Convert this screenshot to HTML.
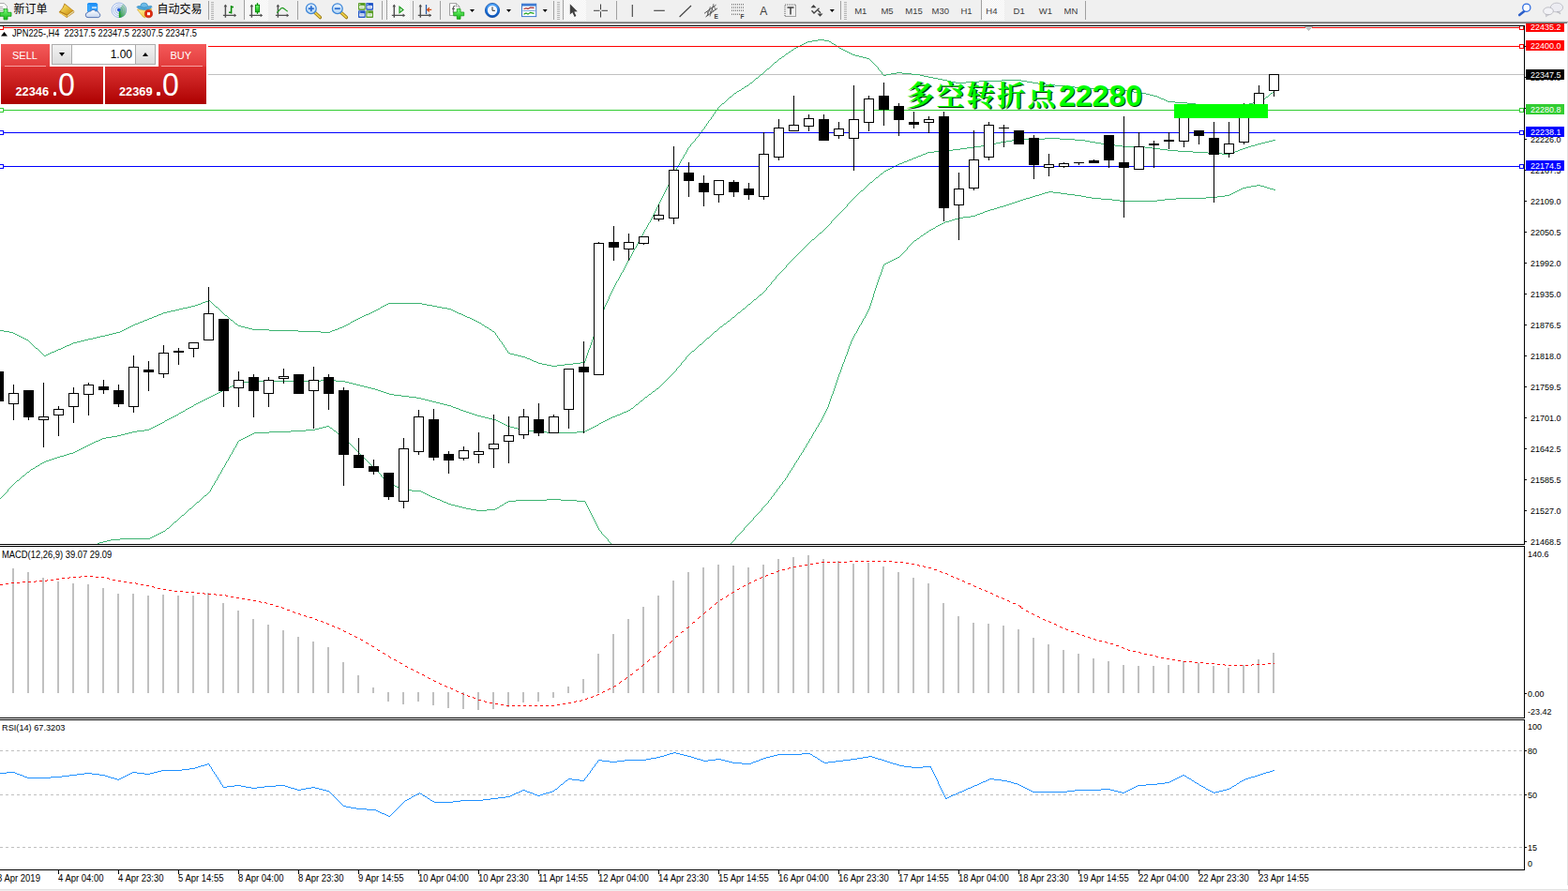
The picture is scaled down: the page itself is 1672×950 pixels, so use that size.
<!DOCTYPE html>
<html><head><meta charset="utf-8"><title>chart</title>
<style>
html,body{margin:0;padding:0;background:#fff;}
body{width:1672px;height:950px;position:relative;overflow:hidden;font-family:"Liberation Sans",sans-serif;}
.n{transform:scaleX(0.926);transform-origin:0 0;}
.t{position:absolute;white-space:nowrap;height:16px;line-height:16px;font-family:"Liberation Sans",sans-serif;}
#tb{position:absolute;left:0;top:0;width:1672px;height:23px;background:#f0f0f0;}
#tbl{position:absolute;left:0;top:22px;width:1672px;height:3px;background:linear-gradient(#e6e6e6 0,#e6e6e6 33.3%,#a6a6a6 33.3%,#a6a6a6 66.6%,#6a6a6a 66.6%);}
#bot{position:absolute;left:0;top:948px;width:1672px;height:2px;background:linear-gradient(#e3e3e3 50%,#f0f0f0 50%);}
#rt{position:absolute;left:1671px;top:24px;width:1px;height:920px;background:#e3e3e3;}
#chart{position:absolute;left:0;top:0;}
#tbsvg{position:absolute;left:0;top:0;}

#oct{position:absolute;left:0;top:0;}
.ocbg{position:absolute;left:0;top:44px;width:222px;height:68px;background:#fff;}
.sellt{position:absolute;left:1px;top:47px;width:52px;height:24px;background:linear-gradient(#f45a5a,#e23c3c);}
.sellb{position:absolute;left:1px;top:71px;width:109px;height:40px;background:linear-gradient(#dc3030,#c41a1a 50%,#ae0000);}
.buyt{position:absolute;left:169px;top:47px;width:51px;height:24px;background:linear-gradient(#f45a5a,#e23c3c);}
.buyb{position:absolute;left:112px;top:71px;width:108px;height:40px;background:linear-gradient(#dc3030,#c41a1a 50%,#ae0000);}
.vol{position:absolute;left:55px;top:47px;width:111px;height:22px;box-sizing:border-box;border:1px solid #adadad;background:#fff;}
.vb{position:absolute;top:0;width:20px;height:20px;background:linear-gradient(#f2f2f2,#dcdcdc);}
.vb.l{left:0;border-right:1px solid #adadad;}
.vb.r{right:0;border-left:1px solid #adadad;}
.vf{position:absolute;left:21px;right:21px;top:0;height:20px;line-height:20px;text-align:right;padding-right:3px;font-size:12px;color:#000;}
.ad{position:absolute;left:7px;top:8px;border:3px solid transparent;border-top:4px solid #000;border-bottom:0;width:0;height:0;}
.au{position:absolute;left:7px;top:8px;border:3px solid transparent;border-bottom:4px solid #000;border-top:0;width:0;height:0;}
.ul{position:absolute;top:70px;width:44px;height:1px;background:#f6a0a0;}
.t.big{top:66px;height:48px;line-height:48px;font-size:34.8px;color:#fff;transform:scaleX(0.92);transform-origin:0 0;}
.dot{position:absolute;top:98.2px;width:3.8px;height:3.8px;border-radius:1.2px;background:#fff;}

</style></head><body>
<div id="tb"></div><div id="tbl"></div><div id="bot"></div><div id="rt"></div>
<svg id="chart" width="1672" height="950" viewBox="0 0 1672 950">
<g shape-rendering="crispEdges">
<rect x="0" y="79" width="1625" height="1" fill="#c0c0c0"/>
</g>
<g fill="#3cb371" shape-rendering="crispEdges">
<path d="M872,42h7v1h-7zM866,43h6v1h-6zM879,43h5v1h-5zM861,44h5v1h-5zM884,44h2v1h-2zM859,45h2v1h-2zM886,45h1v1h-1zM857,46h2v1h-2zM887,46h2v1h-2zM855,47h2v1h-2zM889,47h2v1h-2zM853,48h2v1h-2zM891,48h1v1h-1zM851,49h2v1h-2zM892,49h2v1h-2zM849,50h2v1h-2zM894,50h1v1h-1zM847,51h2v1h-2zM895,51h2v1h-2zM846,52h1v1h-1zM897,52h2v1h-2zM844,53h2v1h-2zM899,53h2v1h-2zM843,54h1v1h-1zM901,54h2v1h-2zM841,55h2v1h-2zM903,55h2v1h-2zM840,56h1v1h-1zM905,56h2v1h-2zM838,57h2v1h-2zM907,57h2v1h-2zM837,58h1v1h-1zM909,58h3v1h-3zM836,59h1v1h-1zM912,59h4v1h-4zM834,60h2v1h-2zM916,60h4v1h-4zM833,61h1v1h-1zM920,61h4v1h-4zM831,62h2v1h-2zM924,62h3v1h-3zM830,63h1v1h-1zM927,63h1v1h-1zM829,64h1v1h-1zM928,64h1v1h-1zM828,65h1v1h-1zM929,65h1v1h-1zM826,66h2v1h-2zM930,66h1v1h-1zM825,67h1v1h-1zM931,67h1v1h-1zM824,68h1v1h-1zM932,68h1v1h-1zM823,69h1v1h-1zM933,69h1v1h-1zM822,70h1v1h-1zM934,70h1v1h-1zM821,71h1v1h-1zM935,71h1v1h-1zM820,72h1v1h-1zM936,72h1v1h-1zM818,73h2v1h-2zM936,73h1v1h-1zM817,74h1v1h-1zM937,74h1v1h-1zM816,75h1v1h-1zM938,75h1v1h-1zM815,76h1v1h-1zM939,76h1v1h-1zM814,77h1v1h-1zM940,77h1v1h-1zM956,77h6v1h-6zM813,78h1v1h-1zM940,78h1v1h-1zM950,78h6v1h-6zM962,78h10v1h-10zM811,79h2v1h-2zM941,79h1v1h-1zM945,79h5v1h-5zM972,79h9v1h-9zM810,80h1v1h-1zM942,80h3v1h-3zM981,80h4v1h-4zM809,81h1v1h-1zM985,81h5v1h-5zM808,82h1v1h-1zM990,82h5v1h-5zM806,83h2v1h-2zM995,83h5v1h-5zM805,84h1v1h-1zM1000,84h5v1h-5zM804,85h1v1h-1zM1005,85h5v1h-5zM1068,85h21v1h-21zM803,86h1v1h-1zM1010,86h4v1h-4zM1044,86h24v1h-24zM1089,86h6v1h-6zM802,87h1v1h-1zM1014,87h5v1h-5zM1030,87h14v1h-14zM1095,87h6v1h-6zM800,88h2v1h-2zM1019,88h11v1h-11zM1101,88h6v1h-6zM799,89h1v1h-1zM1107,89h8v1h-8zM798,90h1v1h-1zM1115,90h10v1h-10zM796,91h2v1h-2zM1125,91h11v1h-11zM794,92h2v1h-2zM1136,92h10v1h-10zM793,93h1v1h-1zM1146,93h13v1h-13zM791,94h2v1h-2zM1159,94h16v1h-16zM790,95h1v1h-1zM1175,95h16v1h-16zM788,96h2v1h-2zM1191,96h11v1h-11zM786,97h2v1h-2zM1202,97h7v1h-7zM1358,97h1v1h-1zM785,98h1v1h-1zM1209,98h8v1h-8zM1357,98h1v1h-1zM783,99h2v1h-2zM1217,99h5v1h-5zM1355,99h2v1h-2zM782,100h1v1h-1zM1222,100h4v1h-4zM1354,100h1v1h-1zM781,101h1v1h-1zM1226,101h4v1h-4zM1353,101h1v1h-1zM780,102h1v1h-1zM1230,102h4v1h-4zM1352,102h1v1h-1zM778,103h2v1h-2zM1234,103h2v1h-2zM1350,103h2v1h-2zM777,104h1v1h-1zM1236,104h2v1h-2zM1349,104h1v1h-1zM776,105h1v1h-1zM1238,105h3v1h-3zM1347,105h2v1h-2zM775,106h1v1h-1zM1241,106h2v1h-2zM1345,106h2v1h-2zM774,107h1v1h-1zM1243,107h2v1h-2zM1343,107h2v1h-2zM773,108h1v1h-1zM1245,108h8v1h-8zM1340,108h3v1h-3zM772,109h1v1h-1zM1253,109h13v1h-13zM1336,109h4v1h-4zM770,110h2v1h-2zM1266,110h9v1h-9zM1332,110h4v1h-4zM769,111h1v1h-1zM1275,111h8v1h-8zM1328,111h4v1h-4zM768,112h1v1h-1zM1283,112h8v1h-8zM1318,112h10v1h-10zM767,113h1v1h-1zM1291,113h27v1h-27zM766,114h1v1h-1zM765,115h1v1h-1zM765,116h1v1h-1zM764,117h1v1h-1zM763,118h1v1h-1zM762,119h1v1h-1zM762,120h1v1h-1zM761,121h1v1h-1zM760,122h1v1h-1zM760,123h1v1h-1zM759,124h1v1h-1zM758,125h1v1h-1zM758,126h1v1h-1zM757,127h1v1h-1zM756,128h1v1h-1zM755,129h1v1h-1zM755,130h1v1h-1zM754,131h1v1h-1zM753,132h1v1h-1zM753,133h1v1h-1zM752,134h1v1h-1zM751,135h1v1h-1zM751,136h1v1h-1zM750,137h1v1h-1zM749,138h1v1h-1zM748,139h1v1h-1zM748,140h1v1h-1zM747,141h1v1h-1zM746,142h1v1h-1zM745,143h1v1h-1zM745,144h1v1h-1zM744,145h1v1h-1zM743,146h1v1h-1zM742,147h1v1h-1zM741,148h1v1h-1zM741,149h1v1h-1zM740,150h1v1h-1zM739,151h1v1h-1zM738,152h1v1h-1zM737,153h1v1h-1zM736,154h1v1h-1zM736,155h1v1h-1zM735,156h1v1h-1zM734,157h1v1h-1zM733,158h1v1h-1zM733,159h1v1h-1zM732,160h1v1h-1zM732,161h1v1h-1zM731,162h1v1h-1zM731,163h1v1h-1zM730,164h1v1h-1zM729,165h1v1h-1zM729,166h1v1h-1zM728,167h1v1h-1zM728,168h1v1h-1zM727,169h1v1h-1zM726,170h1v1h-1zM726,171h1v1h-1zM725,172h1v1h-1zM725,173h1v1h-1zM724,174h1v1h-1zM724,175h1v1h-1zM723,176h1v1h-1zM722,177h1v1h-1zM722,178h1v1h-1zM721,179h1v1h-1zM721,180h1v1h-1zM720,181h1v1h-1zM720,182h1v1h-1zM719,183h1v1h-1zM719,184h1v1h-1zM718,185h1v1h-1zM718,186h1v1h-1zM717,187h1v1h-1zM717,188h1v1h-1zM716,189h1v1h-1zM716,190h1v1h-1zM715,191h1v1h-1zM715,192h1v1h-1zM714,193h1v1h-1zM714,194h1v1h-1zM713,195h1v1h-1zM713,196h1v1h-1zM712,197h1v1h-1zM712,198h1v1h-1zM711,199h1v1h-1zM711,200h1v1h-1zM710,201h1v1h-1zM710,202h1v1h-1zM709,203h1v1h-1zM709,204h1v1h-1zM708,205h1v1h-1zM708,206h1v1h-1zM707,207h1v1h-1zM707,208h1v1h-1zM706,209h1v1h-1zM706,210h1v1h-1zM705,211h1v1h-1zM705,212h1v1h-1zM704,213h1v1h-1zM704,214h1v1h-1zM703,215h1v1h-1zM703,216h1v1h-1zM702,217h1v1h-1zM702,218h1v1h-1zM701,219h1v1h-1zM701,220h1v1h-1zM700,221h1v1h-1zM700,222h1v1h-1zM699,223h1v1h-1zM699,224h1v1h-1zM698,225h1v1h-1zM698,226h1v1h-1zM697,227h1v1h-1zM697,228h1v1h-1zM696,229h1v1h-1zM696,230h1v1h-1zM695,231h1v1h-1zM695,232h1v1h-1zM694,233h1v1h-1zM694,234h1v1h-1zM693,235h1v1h-1zM693,236h1v1h-1zM692,237h1v1h-1zM691,238h1v1h-1zM691,239h1v1h-1zM690,240h1v1h-1zM690,241h1v1h-1zM689,242h1v1h-1zM689,243h1v1h-1zM688,244h1v1h-1zM687,245h1v1h-1zM687,246h1v1h-1zM686,247h1v1h-1zM686,248h1v1h-1zM685,249h1v1h-1zM685,250h1v1h-1zM684,251h1v1h-1zM683,252h1v1h-1zM683,253h1v1h-1zM682,254h1v1h-1zM682,255h1v1h-1zM681,256h1v1h-1zM681,257h1v1h-1zM680,258h1v1h-1zM680,259h1v1h-1zM679,260h1v1h-1zM679,261h1v1h-1zM678,262h1v1h-1zM678,263h1v1h-1zM677,264h1v1h-1zM676,265h1v1h-1zM676,266h1v1h-1zM675,267h1v1h-1zM675,268h1v1h-1zM674,269h1v1h-1zM674,270h1v1h-1zM673,271h1v1h-1zM673,272h1v1h-1zM672,273h1v1h-1zM672,274h1v1h-1zM671,275h1v1h-1zM671,276h1v1h-1zM670,277h1v1h-1zM669,278h1v1h-1zM669,279h1v1h-1zM668,280h1v1h-1zM668,281h1v1h-1zM667,282h1v1h-1zM667,283h1v1h-1zM666,284h1v1h-1zM666,285h1v1h-1zM665,286h1v1h-1zM665,287h1v1h-1zM664,288h1v1h-1zM664,289h1v1h-1zM663,290h1v1h-1zM662,291h1v1h-1zM662,292h1v1h-1zM661,293h1v1h-1zM661,294h1v1h-1zM660,295h1v1h-1zM660,296h1v1h-1zM659,297h1v1h-1zM659,298h1v1h-1zM658,299h1v1h-1zM657,300h1v1h-1zM657,301h1v1h-1zM656,302h1v1h-1zM656,303h1v1h-1zM655,304h1v1h-1zM655,305h1v1h-1zM654,306h1v1h-1zM654,307h1v1h-1zM653,308h1v1h-1zM653,309h1v1h-1zM652,310h1v1h-1zM652,311h1v1h-1zM651,312h1v1h-1zM651,313h1v1h-1zM650,314h1v1h-1zM650,315h1v1h-1zM649,316h1v1h-1zM649,317h1v1h-1zM649,318h1v1h-1zM648,319h1v1h-1zM222,320h2v1h-2zM648,320h1v1h-1zM219,321h3v1h-3zM224,321h1v1h-1zM647,321h1v1h-1zM216,322h3v1h-3zM225,322h1v1h-1zM647,322h1v1h-1zM214,323h2v1h-2zM226,323h1v1h-1zM414,323h36v1h-36zM646,323h1v1h-1zM211,324h3v1h-3zM227,324h1v1h-1zM412,324h2v1h-2zM450,324h5v1h-5zM646,324h1v1h-1zM208,325h3v1h-3zM228,325h1v1h-1zM410,325h2v1h-2zM455,325h6v1h-6zM645,325h1v1h-1zM204,326h4v1h-4zM229,326h1v1h-1zM408,326h2v1h-2zM461,326h5v1h-5zM645,326h1v1h-1zM200,327h4v1h-4zM230,327h2v1h-2zM406,327h2v1h-2zM466,327h5v1h-5zM644,327h1v1h-1zM195,328h5v1h-5zM232,328h1v1h-1zM405,328h1v1h-1zM471,328h6v1h-6zM644,328h1v1h-1zM191,329h4v1h-4zM233,329h1v1h-1zM403,329h2v1h-2zM477,329h4v1h-4zM644,329h1v1h-1zM187,330h4v1h-4zM234,330h1v1h-1zM401,330h2v1h-2zM481,330h2v1h-2zM643,330h1v1h-1zM182,331h5v1h-5zM235,331h1v1h-1zM399,331h2v1h-2zM483,331h2v1h-2zM643,331h1v1h-1zM178,332h4v1h-4zM236,332h1v1h-1zM397,332h2v1h-2zM485,332h2v1h-2zM642,332h1v1h-1zM174,333h4v1h-4zM237,333h1v1h-1zM395,333h2v1h-2zM487,333h2v1h-2zM642,333h1v1h-1zM172,334h2v1h-2zM238,334h1v1h-1zM393,334h2v1h-2zM489,334h3v1h-3zM642,334h1v1h-1zM169,335h3v1h-3zM239,335h1v1h-1zM390,335h3v1h-3zM492,335h2v1h-2zM641,335h1v1h-1zM167,336h2v1h-2zM240,336h2v1h-2zM388,336h2v1h-2zM494,336h2v1h-2zM641,336h1v1h-1zM164,337h3v1h-3zM242,337h1v1h-1zM386,337h2v1h-2zM496,337h2v1h-2zM641,337h1v1h-1zM162,338h2v1h-2zM243,338h1v1h-1zM384,338h2v1h-2zM498,338h3v1h-3zM640,338h1v1h-1zM159,339h3v1h-3zM244,339h1v1h-1zM382,339h2v1h-2zM501,339h2v1h-2zM640,339h1v1h-1zM157,340h2v1h-2zM245,340h1v1h-1zM380,340h2v1h-2zM503,340h2v1h-2zM639,340h1v1h-1zM154,341h3v1h-3zM246,341h2v1h-2zM378,341h2v1h-2zM505,341h2v1h-2zM639,341h1v1h-1zM152,342h2v1h-2zM248,342h1v1h-1zM376,342h2v1h-2zM507,342h2v1h-2zM639,342h1v1h-1zM149,343h3v1h-3zM249,343h1v1h-1zM374,343h2v1h-2zM509,343h2v1h-2zM638,343h1v1h-1zM147,344h2v1h-2zM250,344h1v1h-1zM373,344h1v1h-1zM511,344h2v1h-2zM638,344h1v1h-1zM144,345h3v1h-3zM251,345h2v1h-2zM371,345h2v1h-2zM513,345h1v1h-1zM637,345h1v1h-1zM142,346h2v1h-2zM253,346h1v1h-1zM369,346h2v1h-2zM514,346h2v1h-2zM637,346h1v1h-1zM140,347h2v1h-2zM254,347h3v1h-3zM367,347h2v1h-2zM516,347h1v1h-1zM637,347h1v1h-1zM138,348h2v1h-2zM257,348h4v1h-4zM365,348h2v1h-2zM517,348h2v1h-2zM636,348h1v1h-1zM136,349h2v1h-2zM261,349h4v1h-4zM362,349h3v1h-3zM519,349h2v1h-2zM636,349h1v1h-1zM134,350h2v1h-2zM265,350h4v1h-4zM360,350h2v1h-2zM521,350h1v1h-1zM636,350h1v1h-1zM132,351h2v1h-2zM269,351h18v1h-18zM357,351h3v1h-3zM522,351h2v1h-2zM635,351h1v1h-1zM0,352h4v1h-4zM130,352h2v1h-2zM287,352h31v1h-31zM354,352h3v1h-3zM524,352h1v1h-1zM635,352h1v1h-1zM4,353h6v1h-6zM128,353h2v1h-2zM318,353h24v1h-24zM352,353h2v1h-2zM525,353h2v1h-2zM634,353h1v1h-1zM10,354h4v1h-4zM124,354h4v1h-4zM342,354h10v1h-10zM527,354h1v1h-1zM634,354h1v1h-1zM14,355h2v1h-2zM120,355h4v1h-4zM528,355h1v1h-1zM634,355h1v1h-1zM16,356h2v1h-2zM116,356h4v1h-4zM528,356h1v1h-1zM633,356h1v1h-1zM18,357h2v1h-2zM112,357h4v1h-4zM529,357h1v1h-1zM633,357h1v1h-1zM20,358h2v1h-2zM107,358h5v1h-5zM530,358h1v1h-1zM633,358h1v1h-1zM22,359h2v1h-2zM103,359h4v1h-4zM530,359h1v1h-1zM632,359h1v1h-1zM24,360h2v1h-2zM99,360h4v1h-4zM531,360h1v1h-1zM632,360h1v1h-1zM26,361h2v1h-2zM94,361h5v1h-5zM532,361h1v1h-1zM632,361h1v1h-1zM28,362h2v1h-2zM90,362h4v1h-4zM532,362h1v1h-1zM631,362h1v1h-1zM30,363h1v1h-1zM86,363h4v1h-4zM533,363h1v1h-1zM631,363h1v1h-1zM31,364h1v1h-1zM82,364h4v1h-4zM534,364h1v1h-1zM631,364h1v1h-1zM32,365h1v1h-1zM78,365h4v1h-4zM535,365h1v1h-1zM630,365h1v1h-1zM33,366h1v1h-1zM76,366h2v1h-2zM535,366h1v1h-1zM630,366h1v1h-1zM34,367h1v1h-1zM74,367h2v1h-2zM536,367h1v1h-1zM630,367h1v1h-1zM35,368h1v1h-1zM71,368h3v1h-3zM537,368h1v1h-1zM629,368h1v1h-1zM36,369h1v1h-1zM69,369h2v1h-2zM537,369h1v1h-1zM629,369h1v1h-1zM37,370h1v1h-1zM67,370h2v1h-2zM538,370h1v1h-1zM629,370h1v1h-1zM38,371h2v1h-2zM65,371h2v1h-2zM539,371h1v1h-1zM628,371h1v1h-1zM40,372h1v1h-1zM62,372h3v1h-3zM539,372h1v1h-1zM628,372h1v1h-1zM41,373h1v1h-1zM60,373h2v1h-2zM540,373h1v1h-1zM627,373h1v1h-1zM42,374h1v1h-1zM58,374h2v1h-2zM541,374h1v1h-1zM627,374h1v1h-1zM43,375h1v1h-1zM55,375h3v1h-3zM541,375h1v1h-1zM627,375h1v1h-1zM44,376h1v1h-1zM53,376h2v1h-2zM542,376h2v1h-2zM626,376h1v1h-1zM45,377h1v1h-1zM51,377h2v1h-2zM544,377h4v1h-4zM626,377h1v1h-1zM46,378h1v1h-1zM49,378h2v1h-2zM548,378h4v1h-4zM626,378h1v1h-1zM47,379h2v1h-2zM552,379h4v1h-4zM625,379h1v1h-1zM556,380h4v1h-4zM625,380h1v1h-1zM560,381h2v1h-2zM625,381h1v1h-1zM562,382h3v1h-3zM624,382h1v1h-1zM565,383h2v1h-2zM624,383h1v1h-1zM567,384h2v1h-2zM624,384h1v1h-1zM569,385h3v1h-3zM623,385h1v1h-1zM572,386h2v1h-2zM619,386h5v1h-5zM574,387h4v1h-4zM611,387h8v1h-8zM578,388h5v1h-5zM602,388h9v1h-9zM583,389h5v1h-5zM594,389h8v1h-8zM588,390h6v1h-6z"/>
<path d="M1114,147h16v1h-16zM1087,148h27v1h-27zM1130,148h16v1h-16zM1079,149h8v1h-8zM1146,149h11v1h-11zM1357,149h3v1h-3zM1073,150h6v1h-6zM1157,150h5v1h-5zM1353,150h4v1h-4zM1067,151h6v1h-6zM1162,151h6v1h-6zM1349,151h4v1h-4zM1062,152h5v1h-5zM1168,152h6v1h-6zM1345,152h4v1h-4zM1057,153h5v1h-5zM1174,153h8v1h-8zM1341,153h4v1h-4zM1051,154h6v1h-6zM1182,154h7v1h-7zM1338,154h3v1h-3zM1046,155h5v1h-5zM1189,155h8v1h-8zM1334,155h4v1h-4zM1039,156h7v1h-7zM1197,156h24v1h-24zM1331,156h3v1h-3zM1031,157h8v1h-8zM1221,157h8v1h-8zM1328,157h3v1h-3zM1024,158h7v1h-7zM1229,158h8v1h-8zM1325,158h3v1h-3zM1016,159h8v1h-8zM1237,159h8v1h-8zM1322,159h3v1h-3zM1007,160h9v1h-9zM1245,160h11v1h-11zM1320,160h2v1h-2zM996,161h11v1h-11zM1256,161h16v1h-16zM1317,161h3v1h-3zM989,162h7v1h-7zM1272,162h16v1h-16zM1314,162h3v1h-3zM987,163h2v1h-2zM1288,163h15v1h-15zM1312,163h2v1h-2zM984,164h3v1h-3zM1303,164h9v1h-9zM982,165h2v1h-2zM979,166h3v1h-3zM977,167h2v1h-2zM974,168h3v1h-3zM972,169h2v1h-2zM969,170h3v1h-3zM967,171h2v1h-2zM964,172h3v1h-3zM962,173h2v1h-2zM959,174h3v1h-3zM957,175h2v1h-2zM955,176h2v1h-2zM953,177h2v1h-2zM951,178h2v1h-2zM949,179h2v1h-2zM947,180h2v1h-2zM945,181h2v1h-2zM943,182h2v1h-2zM942,183h1v1h-1zM941,184h1v1h-1zM939,185h2v1h-2zM938,186h1v1h-1zM937,187h1v1h-1zM936,188h1v1h-1zM934,189h2v1h-2zM933,190h1v1h-1zM932,191h1v1h-1zM931,192h1v1h-1zM930,193h1v1h-1zM928,194h2v1h-2zM927,195h1v1h-1zM926,196h1v1h-1zM925,197h1v1h-1zM924,198h1v1h-1zM923,199h1v1h-1zM922,200h1v1h-1zM921,201h1v1h-1zM920,202h1v1h-1zM918,203h2v1h-2zM917,204h1v1h-1zM916,205h1v1h-1zM915,206h1v1h-1zM914,207h1v1h-1zM913,208h1v1h-1zM912,209h1v1h-1zM911,210h1v1h-1zM910,211h1v1h-1zM909,212h1v1h-1zM908,213h1v1h-1zM907,214h1v1h-1zM906,215h1v1h-1zM905,216h1v1h-1zM904,217h1v1h-1zM903,218h1v1h-1zM903,219h1v1h-1zM902,220h1v1h-1zM901,221h1v1h-1zM900,222h1v1h-1zM899,223h1v1h-1zM898,224h1v1h-1zM897,225h1v1h-1zM896,226h1v1h-1zM895,227h1v1h-1zM894,228h1v1h-1zM893,229h1v1h-1zM892,230h1v1h-1zM891,231h1v1h-1zM890,232h1v1h-1zM889,233h1v1h-1zM888,234h1v1h-1zM887,235h1v1h-1zM886,236h1v1h-1zM886,237h1v1h-1zM885,238h1v1h-1zM884,239h1v1h-1zM883,240h1v1h-1zM882,241h1v1h-1zM881,242h1v1h-1zM880,243h1v1h-1zM879,244h1v1h-1zM878,245h1v1h-1zM877,246h1v1h-1zM876,247h1v1h-1zM874,248h2v1h-2zM873,249h1v1h-1zM872,250h1v1h-1zM871,251h1v1h-1zM870,252h1v1h-1zM869,253h1v1h-1zM868,254h1v1h-1zM866,255h2v1h-2zM865,256h1v1h-1zM864,257h1v1h-1zM863,258h1v1h-1zM862,259h1v1h-1zM861,260h1v1h-1zM860,261h1v1h-1zM859,262h1v1h-1zM858,263h1v1h-1zM857,264h1v1h-1zM856,265h1v1h-1zM855,266h1v1h-1zM854,267h1v1h-1zM853,268h1v1h-1zM852,269h1v1h-1zM851,270h1v1h-1zM850,271h1v1h-1zM849,272h1v1h-1zM848,273h1v1h-1zM847,274h1v1h-1zM846,275h1v1h-1zM845,276h1v1h-1zM844,277h1v1h-1zM843,278h1v1h-1zM842,279h1v1h-1zM841,280h1v1h-1zM840,281h1v1h-1zM839,282h1v1h-1zM838,283h1v1h-1zM838,284h1v1h-1zM837,285h1v1h-1zM836,286h1v1h-1zM835,287h1v1h-1zM834,288h1v1h-1zM833,289h1v1h-1zM832,290h1v1h-1zM831,291h1v1h-1zM830,292h1v1h-1zM829,293h1v1h-1zM828,294h1v1h-1zM827,295h1v1h-1zM827,296h1v1h-1zM826,297h1v1h-1zM825,298h1v1h-1zM824,299h1v1h-1zM823,300h1v1h-1zM822,301h1v1h-1zM822,302h1v1h-1zM821,303h1v1h-1zM820,304h1v1h-1zM819,305h1v1h-1zM818,306h1v1h-1zM817,307h1v1h-1zM817,308h1v1h-1zM816,309h1v1h-1zM815,310h1v1h-1zM814,311h1v1h-1zM813,312h1v1h-1zM812,313h1v1h-1zM810,314h2v1h-2zM809,315h1v1h-1zM808,316h1v1h-1zM807,317h1v1h-1zM806,318h1v1h-1zM804,319h2v1h-2zM803,320h1v1h-1zM802,321h1v1h-1zM801,322h1v1h-1zM800,323h1v1h-1zM798,324h2v1h-2zM797,325h1v1h-1zM796,326h1v1h-1zM795,327h1v1h-1zM794,328h1v1h-1zM792,329h2v1h-2zM791,330h1v1h-1zM790,331h1v1h-1zM789,332h1v1h-1zM787,333h2v1h-2zM786,334h1v1h-1zM785,335h1v1h-1zM784,336h1v1h-1zM783,337h1v1h-1zM781,338h2v1h-2zM780,339h1v1h-1zM779,340h1v1h-1zM778,341h1v1h-1zM776,342h2v1h-2zM775,343h1v1h-1zM774,344h1v1h-1zM772,345h2v1h-2zM771,346h1v1h-1zM770,347h1v1h-1zM768,348h2v1h-2zM767,349h1v1h-1zM766,350h1v1h-1zM765,351h1v1h-1zM764,352h1v1h-1zM762,353h2v1h-2zM761,354h1v1h-1zM760,355h1v1h-1zM759,356h1v1h-1zM758,357h1v1h-1zM757,358h1v1h-1zM756,359h1v1h-1zM754,360h2v1h-2zM753,361h1v1h-1zM752,362h1v1h-1zM751,363h1v1h-1zM750,364h1v1h-1zM749,365h1v1h-1zM748,366h1v1h-1zM746,367h2v1h-2zM745,368h1v1h-1zM744,369h1v1h-1zM743,370h1v1h-1zM742,371h1v1h-1zM741,372h1v1h-1zM740,373h1v1h-1zM738,374h2v1h-2zM737,375h1v1h-1zM736,376h1v1h-1zM735,377h1v1h-1zM734,378h1v1h-1zM733,379h1v1h-1zM732,380h1v1h-1zM731,381h1v1h-1zM731,382h1v1h-1zM730,383h1v1h-1zM729,384h1v1h-1zM728,385h1v1h-1zM727,386h1v1h-1zM726,387h1v1h-1zM726,388h1v1h-1zM725,389h1v1h-1zM724,390h1v1h-1zM723,391h1v1h-1zM722,392h1v1h-1zM721,393h1v1h-1zM721,394h1v1h-1zM720,395h1v1h-1zM719,396h1v1h-1zM718,397h1v1h-1zM717,398h1v1h-1zM716,399h1v1h-1zM715,400h1v1h-1zM714,401h1v1h-1zM713,402h1v1h-1zM712,403h1v1h-1zM711,404h1v1h-1zM342,405h16v1h-16zM710,405h1v1h-1zM267,406h75v1h-75zM358,406h10v1h-10zM709,406h1v1h-1zM259,407h8v1h-8zM368,407h4v1h-4zM708,407h1v1h-1zM253,408h6v1h-6zM372,408h4v1h-4zM707,408h1v1h-1zM251,409h2v1h-2zM376,409h4v1h-4zM706,409h1v1h-1zM249,410h2v1h-2zM380,410h4v1h-4zM705,410h1v1h-1zM247,411h2v1h-2zM384,411h4v1h-4zM704,411h1v1h-1zM245,412h2v1h-2zM388,412h4v1h-4zM703,412h1v1h-1zM243,413h2v1h-2zM392,413h4v1h-4zM702,413h1v1h-1zM241,414h2v1h-2zM396,414h4v1h-4zM700,414h2v1h-2zM239,415h2v1h-2zM400,415h3v1h-3zM699,415h1v1h-1zM237,416h2v1h-2zM403,416h3v1h-3zM698,416h1v1h-1zM235,417h2v1h-2zM406,417h3v1h-3zM696,417h2v1h-2zM233,418h2v1h-2zM409,418h3v1h-3zM695,418h1v1h-1zM231,419h2v1h-2zM412,419h3v1h-3zM694,419h1v1h-1zM229,420h2v1h-2zM415,420h5v1h-5zM692,420h2v1h-2zM227,421h2v1h-2zM420,421h8v1h-8zM691,421h1v1h-1zM225,422h2v1h-2zM428,422h8v1h-8zM690,422h1v1h-1zM223,423h2v1h-2zM436,423h8v1h-8zM688,423h2v1h-2zM221,424h2v1h-2zM444,424h5v1h-5zM687,424h1v1h-1zM219,425h2v1h-2zM449,425h4v1h-4zM686,425h1v1h-1zM217,426h2v1h-2zM453,426h4v1h-4zM685,426h1v1h-1zM215,427h2v1h-2zM457,427h4v1h-4zM683,427h2v1h-2zM213,428h2v1h-2zM461,428h4v1h-4zM682,428h1v1h-1zM211,429h2v1h-2zM465,429h4v1h-4zM681,429h1v1h-1zM209,430h2v1h-2zM469,430h4v1h-4zM680,430h1v1h-1zM207,431h2v1h-2zM473,431h4v1h-4zM678,431h2v1h-2zM206,432h1v1h-1zM477,432h4v1h-4zM677,432h1v1h-1zM204,433h2v1h-2zM481,433h2v1h-2zM676,433h1v1h-1zM202,434h2v1h-2zM483,434h3v1h-3zM675,434h1v1h-1zM200,435h2v1h-2zM486,435h3v1h-3zM673,435h2v1h-2zM198,436h2v1h-2zM489,436h2v1h-2zM672,436h1v1h-1zM197,437h1v1h-1zM491,437h3v1h-3zM670,437h2v1h-2zM195,438h2v1h-2zM494,438h3v1h-3zM668,438h2v1h-2zM193,439h2v1h-2zM497,439h3v1h-3zM665,439h3v1h-3zM191,440h2v1h-2zM500,440h3v1h-3zM663,440h2v1h-2zM190,441h1v1h-1zM503,441h3v1h-3zM661,441h2v1h-2zM188,442h2v1h-2zM506,442h3v1h-3zM658,442h3v1h-3zM186,443h2v1h-2zM509,443h4v1h-4zM656,443h2v1h-2zM184,444h2v1h-2zM513,444h4v1h-4zM653,444h3v1h-3zM182,445h2v1h-2zM517,445h4v1h-4zM651,445h2v1h-2zM180,446h2v1h-2zM521,446h4v1h-4zM649,446h2v1h-2zM178,447h2v1h-2zM525,447h4v1h-4zM647,447h2v1h-2zM176,448h2v1h-2zM529,448h2v1h-2zM645,448h2v1h-2zM175,449h1v1h-1zM531,449h2v1h-2zM643,449h2v1h-2zM173,450h2v1h-2zM533,450h2v1h-2zM641,450h2v1h-2zM171,451h2v1h-2zM535,451h2v1h-2zM639,451h2v1h-2zM169,452h2v1h-2zM537,452h2v1h-2zM638,452h1v1h-1zM167,453h2v1h-2zM539,453h2v1h-2zM636,453h2v1h-2zM165,454h2v1h-2zM541,454h3v1h-3zM634,454h2v1h-2zM163,455h2v1h-2zM544,455h4v1h-4zM632,455h2v1h-2zM161,456h2v1h-2zM548,456h4v1h-4zM630,456h2v1h-2zM159,457h2v1h-2zM552,457h4v1h-4zM628,457h2v1h-2zM154,458h5v1h-5zM556,458h7v1h-7zM626,458h2v1h-2zM146,459h8v1h-8zM563,459h8v1h-8zM624,459h2v1h-2zM141,460h5v1h-5zM571,460h12v1h-12zM615,460h9v1h-9zM137,461h4v1h-4zM583,461h32v1h-32zM133,462h4v1h-4zM129,463h4v1h-4zM125,464h4v1h-4zM119,465h6v1h-6zM113,466h6v1h-6zM109,467h4v1h-4zM107,468h2v1h-2zM105,469h2v1h-2zM102,470h3v1h-3zM100,471h2v1h-2zM98,472h2v1h-2zM96,473h2v1h-2zM94,474h2v1h-2zM92,475h2v1h-2zM90,476h2v1h-2zM88,477h2v1h-2zM86,478h2v1h-2zM84,479h2v1h-2zM82,480h2v1h-2zM80,481h2v1h-2zM78,482h2v1h-2zM74,483h4v1h-4zM71,484h3v1h-3zM68,485h3v1h-3zM64,486h4v1h-4zM61,487h3v1h-3zM58,488h3v1h-3zM55,489h3v1h-3zM52,490h3v1h-3zM49,491h3v1h-3zM47,492h2v1h-2zM45,493h2v1h-2zM43,494h2v1h-2zM42,495h1v1h-1zM40,496h2v1h-2zM38,497h2v1h-2zM37,498h1v1h-1zM35,499h2v1h-2zM33,500h2v1h-2zM32,501h1v1h-1zM31,502h1v1h-1zM29,503h2v1h-2zM28,504h1v1h-1zM27,505h1v1h-1zM26,506h1v1h-1zM24,507h2v1h-2zM23,508h1v1h-1zM22,509h1v1h-1zM21,510h1v1h-1zM20,511h1v1h-1zM18,512h2v1h-2zM17,513h1v1h-1zM16,514h1v1h-1zM15,515h1v1h-1zM14,516h1v1h-1zM13,517h1v1h-1zM12,518h1v1h-1zM11,519h1v1h-1zM10,520h1v1h-1zM9,521h1v1h-1zM8,522h1v1h-1zM8,523h1v1h-1zM7,524h1v1h-1zM6,525h1v1h-1zM5,526h1v1h-1zM4,527h1v1h-1zM3,528h1v1h-1zM2,529h1v1h-1zM1,530h1v1h-1zM0,531h1v1h-1z"/>
<path d="M348,454h3v1h-3zM344,455h4v1h-4zM351,455h1v1h-1zM340,456h4v1h-4zM352,456h2v1h-2zM336,457h4v1h-4zM354,457h1v1h-1zM326,458h10v1h-10zM355,458h1v1h-1zM310,459h16v1h-16zM356,459h2v1h-2zM287,460h23v1h-23zM358,460h1v1h-1zM271,461h16v1h-16zM359,461h1v1h-1zM269,462h2v1h-2zM360,462h2v1h-2zM267,463h2v1h-2zM362,463h1v1h-1zM265,464h2v1h-2zM363,464h1v1h-1zM263,465h2v1h-2zM364,465h2v1h-2zM261,466h2v1h-2zM366,466h1v1h-1zM259,467h2v1h-2zM367,467h1v1h-1zM257,468h2v1h-2zM368,468h1v1h-1zM255,469h2v1h-2zM369,469h1v1h-1zM254,470h1v1h-1zM370,470h1v1h-1zM253,471h1v1h-1zM371,471h1v1h-1zM253,472h1v1h-1zM372,472h1v1h-1zM252,473h1v1h-1zM373,473h1v1h-1zM252,474h1v1h-1zM374,474h1v1h-1zM251,475h1v1h-1zM375,475h1v1h-1zM251,476h1v1h-1zM376,476h1v1h-1zM250,477h1v1h-1zM377,477h1v1h-1zM249,478h1v1h-1zM378,478h1v1h-1zM249,479h1v1h-1zM379,479h1v1h-1zM248,480h1v1h-1zM380,480h1v1h-1zM248,481h1v1h-1zM381,481h1v1h-1zM247,482h1v1h-1zM382,482h1v1h-1zM247,483h1v1h-1zM383,483h1v1h-1zM246,484h1v1h-1zM384,484h1v1h-1zM245,485h1v1h-1zM385,485h1v1h-1zM245,486h1v1h-1zM386,486h1v1h-1zM244,487h1v1h-1zM387,487h1v1h-1zM244,488h1v1h-1zM388,488h1v1h-1zM243,489h1v1h-1zM389,489h1v1h-1zM243,490h1v1h-1zM390,490h1v1h-1zM242,491h1v1h-1zM391,491h1v1h-1zM241,492h1v1h-1zM392,492h1v1h-1zM241,493h1v1h-1zM393,493h1v1h-1zM240,494h1v1h-1zM394,494h1v1h-1zM240,495h1v1h-1zM395,495h1v1h-1zM239,496h1v1h-1zM396,496h1v1h-1zM239,497h1v1h-1zM397,497h1v1h-1zM238,498h1v1h-1zM398,498h1v1h-1zM237,499h1v1h-1zM399,499h1v1h-1zM237,500h1v1h-1zM400,500h1v1h-1zM236,501h1v1h-1zM401,501h1v1h-1zM236,502h1v1h-1zM402,502h1v1h-1zM235,503h1v1h-1zM403,503h1v1h-1zM235,504h1v1h-1zM404,504h1v1h-1zM234,505h1v1h-1zM405,505h1v1h-1zM233,506h1v1h-1zM406,506h1v1h-1zM233,507h1v1h-1zM406,507h1v1h-1zM232,508h1v1h-1zM407,508h1v1h-1zM232,509h1v1h-1zM408,509h1v1h-1zM231,510h1v1h-1zM409,510h1v1h-1zM231,511h1v1h-1zM410,511h1v1h-1zM230,512h1v1h-1zM411,512h1v1h-1zM229,513h1v1h-1zM412,513h1v1h-1zM229,514h1v1h-1zM413,514h1v1h-1zM228,515h1v1h-1zM414,515h2v1h-2zM228,516h1v1h-1zM416,516h2v1h-2zM227,517h1v1h-1zM418,517h3v1h-3zM226,518h1v1h-1zM421,518h2v1h-2zM226,519h1v1h-1zM423,519h2v1h-2zM225,520h1v1h-1zM425,520h3v1h-3zM225,521h1v1h-1zM428,521h2v1h-2zM224,522h1v1h-1zM430,522h9v1h-9zM224,523h1v1h-1zM439,523h10v1h-10zM223,524h1v1h-1zM449,524h2v1h-2zM222,525h1v1h-1zM451,525h2v1h-2zM221,526h1v1h-1zM453,526h2v1h-2zM220,527h1v1h-1zM455,527h2v1h-2zM218,528h2v1h-2zM457,528h2v1h-2zM217,529h1v1h-1zM459,529h2v1h-2zM216,530h1v1h-1zM461,530h3v1h-3zM215,531h1v1h-1zM464,531h2v1h-2zM214,532h1v1h-1zM466,532h3v1h-3zM583,532h15v1h-15zM213,533h1v1h-1zM469,533h2v1h-2zM550,533h33v1h-33zM598,533h17v1h-17zM212,534h1v1h-1zM471,534h2v1h-2zM542,534h8v1h-8zM615,534h9v1h-9zM210,535h2v1h-2zM473,535h3v1h-3zM540,535h2v1h-2zM624,535h1v1h-1zM209,536h1v1h-1zM476,536h2v1h-2zM538,536h2v1h-2zM624,536h1v1h-1zM208,537h1v1h-1zM478,537h3v1h-3zM537,537h1v1h-1zM625,537h1v1h-1zM207,538h1v1h-1zM481,538h4v1h-4zM535,538h2v1h-2zM625,538h1v1h-1zM206,539h1v1h-1zM485,539h4v1h-4zM533,539h2v1h-2zM626,539h1v1h-1zM205,540h1v1h-1zM489,540h4v1h-4zM532,540h1v1h-1zM626,540h1v1h-1zM204,541h1v1h-1zM493,541h4v1h-4zM530,541h2v1h-2zM627,541h1v1h-1zM202,542h2v1h-2zM497,542h5v1h-5zM528,542h2v1h-2zM627,542h1v1h-1zM201,543h1v1h-1zM502,543h6v1h-6zM519,543h9v1h-9zM628,543h1v1h-1zM200,544h1v1h-1zM508,544h11v1h-11zM628,544h1v1h-1zM199,545h1v1h-1zM629,545h1v1h-1zM198,546h1v1h-1zM629,546h1v1h-1zM197,547h1v1h-1zM630,547h1v1h-1zM196,548h1v1h-1zM630,548h1v1h-1zM194,549h2v1h-2zM631,549h1v1h-1zM193,550h1v1h-1zM631,550h1v1h-1zM192,551h1v1h-1zM632,551h1v1h-1zM191,552h1v1h-1zM632,552h1v1h-1zM190,553h1v1h-1zM633,553h1v1h-1zM189,554h1v1h-1zM633,554h1v1h-1zM188,555h1v1h-1zM634,555h1v1h-1zM186,556h2v1h-2zM634,556h1v1h-1zM185,557h1v1h-1zM635,557h1v1h-1zM184,558h1v1h-1zM635,558h1v1h-1zM183,559h1v1h-1zM636,559h1v1h-1zM182,560h1v1h-1zM636,560h1v1h-1zM181,561h1v1h-1zM637,561h1v1h-1zM180,562h1v1h-1zM637,562h1v1h-1zM178,563h2v1h-2zM638,563h1v1h-1zM177,564h1v1h-1zM638,564h1v1h-1zM176,565h1v1h-1zM639,565h1v1h-1zM174,566h2v1h-2zM640,566h1v1h-1zM172,567h2v1h-2zM641,567h1v1h-1zM170,568h2v1h-2zM641,568h1v1h-1zM168,569h2v1h-2zM642,569h1v1h-1zM166,570h2v1h-2zM643,570h1v1h-1zM164,571h2v1h-2zM644,571h1v1h-1zM162,572h2v1h-2zM645,572h1v1h-1zM160,573h2v1h-2zM646,573h1v1h-1zM128,574h32v1h-32zM647,574h1v1h-1zM118,575h10v1h-10zM648,575h1v1h-1zM114,576h4v1h-4zM648,576h1v1h-1zM110,577h4v1h-4zM649,577h1v1h-1zM106,578h4v1h-4zM650,578h1v1h-1zM104,579h2v1h-2zM651,579h1v1h-1z"/>
<path d="M1340,197h4v1h-4zM1334,198h6v1h-6zM1344,198h4v1h-4zM1329,199h5v1h-5zM1348,199h3v1h-3zM1325,200h4v1h-4zM1351,200h3v1h-3zM1323,201h2v1h-2zM1354,201h4v1h-4zM1321,202h2v1h-2zM1358,202h2v1h-2zM1319,203h2v1h-2zM1118,204h5v1h-5zM1317,204h2v1h-2zM1114,205h4v1h-4zM1123,205h8v1h-8zM1315,205h2v1h-2zM1111,206h3v1h-3zM1131,206h7v1h-7zM1313,206h2v1h-2zM1108,207h3v1h-3zM1138,207h8v1h-8zM1311,207h2v1h-2zM1104,208h4v1h-4zM1146,208h7v1h-7zM1306,208h5v1h-5zM1101,209h3v1h-3zM1153,209h5v1h-5zM1298,209h8v1h-8zM1098,210h3v1h-3zM1158,210h6v1h-6zM1286,210h12v1h-12zM1094,211h4v1h-4zM1164,211h10v1h-10zM1254,211h32v1h-32zM1091,212h3v1h-3zM1174,212h12v1h-12zM1242,212h12v1h-12zM1088,213h3v1h-3zM1186,213h8v1h-8zM1234,213h8v1h-8zM1085,214h3v1h-3zM1194,214h40v1h-40zM1082,215h3v1h-3zM1079,216h3v1h-3zM1076,217h3v1h-3zM1073,218h3v1h-3zM1070,219h3v1h-3zM1066,220h4v1h-4zM1063,221h3v1h-3zM1060,222h3v1h-3zM1056,223h4v1h-4zM1053,224h3v1h-3zM1050,225h3v1h-3zM1048,226h2v1h-2zM1045,227h3v1h-3zM1042,228h3v1h-3zM1040,229h2v1h-2zM1035,230h5v1h-5zM1027,231h8v1h-8zM1022,232h5v1h-5zM1018,233h4v1h-4zM1015,234h3v1h-3zM1012,235h3v1h-3zM1008,236h4v1h-4zM1006,237h2v1h-2zM1004,238h2v1h-2zM1002,239h2v1h-2zM1000,240h2v1h-2zM998,241h2v1h-2zM997,242h1v1h-1zM995,243h2v1h-2zM993,244h2v1h-2zM991,245h2v1h-2zM990,246h1v1h-1zM988,247h2v1h-2zM987,248h1v1h-1zM985,249h2v1h-2zM984,250h1v1h-1zM982,251h2v1h-2zM981,252h1v1h-1zM980,253h1v1h-1zM978,254h2v1h-2zM977,255h1v1h-1zM975,256h2v1h-2zM974,257h1v1h-1zM973,258h1v1h-1zM972,259h1v1h-1zM971,260h1v1h-1zM970,261h1v1h-1zM969,262h1v1h-1zM968,263h1v1h-1zM967,264h1v1h-1zM967,265h1v1h-1zM966,266h1v1h-1zM965,267h1v1h-1zM964,268h1v1h-1zM963,269h1v1h-1zM962,270h1v1h-1zM961,271h1v1h-1zM960,272h1v1h-1zM959,273h1v1h-1zM957,274h2v1h-2zM955,275h2v1h-2zM953,276h2v1h-2zM951,277h2v1h-2zM949,278h2v1h-2zM947,279h2v1h-2zM945,280h2v1h-2zM943,281h2v1h-2zM942,282h1v1h-1zM942,283h1v1h-1zM941,284h1v1h-1zM941,285h1v1h-1zM941,286h1v1h-1zM940,287h1v1h-1zM940,288h1v1h-1zM940,289h1v1h-1zM939,290h1v1h-1zM939,291h1v1h-1zM939,292h1v1h-1zM938,293h1v1h-1zM938,294h1v1h-1zM937,295h1v1h-1zM937,296h1v1h-1zM937,297h1v1h-1zM936,298h1v1h-1zM936,299h1v1h-1zM936,300h1v1h-1zM935,301h1v1h-1zM935,302h1v1h-1zM935,303h1v1h-1zM934,304h1v1h-1zM934,305h1v1h-1zM934,306h1v1h-1zM933,307h1v1h-1zM933,308h1v1h-1zM933,309h1v1h-1zM932,310h1v1h-1zM932,311h1v1h-1zM932,312h1v1h-1zM931,313h1v1h-1zM931,314h1v1h-1zM931,315h1v1h-1zM931,316h1v1h-1zM930,317h1v1h-1zM930,318h1v1h-1zM930,319h1v1h-1zM929,320h1v1h-1zM929,321h1v1h-1zM929,322h1v1h-1zM928,323h1v1h-1zM928,324h1v1h-1zM928,325h1v1h-1zM927,326h1v1h-1zM927,327h1v1h-1zM927,328h1v1h-1zM926,329h1v1h-1zM926,330h1v1h-1zM925,331h1v1h-1zM925,332h1v1h-1zM924,333h1v1h-1zM924,334h1v1h-1zM923,335h1v1h-1zM923,336h1v1h-1zM922,337h1v1h-1zM922,338h1v1h-1zM921,339h1v1h-1zM920,340h1v1h-1zM920,341h1v1h-1zM919,342h1v1h-1zM919,343h1v1h-1zM918,344h1v1h-1zM918,345h1v1h-1zM917,346h1v1h-1zM916,347h1v1h-1zM916,348h1v1h-1zM915,349h1v1h-1zM915,350h1v1h-1zM914,351h1v1h-1zM914,352h1v1h-1zM913,353h1v1h-1zM913,354h1v1h-1zM912,355h1v1h-1zM911,356h1v1h-1zM911,357h1v1h-1zM910,358h1v1h-1zM910,359h1v1h-1zM909,360h1v1h-1zM909,361h1v1h-1zM908,362h1v1h-1zM908,363h1v1h-1zM907,364h1v1h-1zM907,365h1v1h-1zM907,366h1v1h-1zM906,367h1v1h-1zM906,368h1v1h-1zM905,369h1v1h-1zM905,370h1v1h-1zM905,371h1v1h-1zM904,372h1v1h-1zM904,373h1v1h-1zM904,374h1v1h-1zM903,375h1v1h-1zM903,376h1v1h-1zM903,377h1v1h-1zM902,378h1v1h-1zM902,379h1v1h-1zM901,380h1v1h-1zM901,381h1v1h-1zM901,382h1v1h-1zM900,383h1v1h-1zM900,384h1v1h-1zM900,385h1v1h-1zM899,386h1v1h-1zM899,387h1v1h-1zM898,388h1v1h-1zM898,389h1v1h-1zM898,390h1v1h-1zM897,391h1v1h-1zM897,392h1v1h-1zM897,393h1v1h-1zM896,394h1v1h-1zM896,395h1v1h-1zM896,396h1v1h-1zM895,397h1v1h-1zM895,398h1v1h-1zM894,399h1v1h-1zM894,400h1v1h-1zM894,401h1v1h-1zM893,402h1v1h-1zM893,403h1v1h-1zM893,404h1v1h-1zM892,405h1v1h-1zM892,406h1v1h-1zM892,407h1v1h-1zM891,408h1v1h-1zM891,409h1v1h-1zM891,410h1v1h-1zM890,411h1v1h-1zM890,412h1v1h-1zM890,413h1v1h-1zM889,414h1v1h-1zM889,415h1v1h-1zM889,416h1v1h-1zM888,417h1v1h-1zM888,418h1v1h-1zM888,419h1v1h-1zM887,420h1v1h-1zM887,421h1v1h-1zM886,422h1v1h-1zM886,423h1v1h-1zM886,424h1v1h-1zM885,425h1v1h-1zM885,426h1v1h-1zM885,427h1v1h-1zM884,428h1v1h-1zM884,429h1v1h-1zM884,430h1v1h-1zM883,431h1v1h-1zM883,432h1v1h-1zM883,433h1v1h-1zM882,434h1v1h-1zM882,435h1v1h-1zM881,436h1v1h-1zM881,437h1v1h-1zM880,438h1v1h-1zM880,439h1v1h-1zM879,440h1v1h-1zM879,441h1v1h-1zM878,442h1v1h-1zM878,443h1v1h-1zM877,444h1v1h-1zM877,445h1v1h-1zM876,446h1v1h-1zM876,447h1v1h-1zM875,448h1v1h-1zM875,449h1v1h-1zM874,450h1v1h-1zM873,451h1v1h-1zM873,452h1v1h-1zM872,453h1v1h-1zM872,454h1v1h-1zM871,455h1v1h-1zM870,456h1v1h-1zM870,457h1v1h-1zM869,458h1v1h-1zM869,459h1v1h-1zM868,460h1v1h-1zM867,461h1v1h-1zM867,462h1v1h-1zM866,463h1v1h-1zM866,464h1v1h-1zM865,465h1v1h-1zM865,466h1v1h-1zM864,467h1v1h-1zM863,468h1v1h-1zM863,469h1v1h-1zM862,470h1v1h-1zM862,471h1v1h-1zM861,472h1v1h-1zM860,473h1v1h-1zM860,474h1v1h-1zM859,475h1v1h-1zM859,476h1v1h-1zM858,477h1v1h-1zM857,478h1v1h-1zM857,479h1v1h-1zM856,480h1v1h-1zM856,481h1v1h-1zM855,482h1v1h-1zM854,483h1v1h-1zM854,484h1v1h-1zM853,485h1v1h-1zM852,486h1v1h-1zM852,487h1v1h-1zM851,488h1v1h-1zM851,489h1v1h-1zM850,490h1v1h-1zM849,491h1v1h-1zM849,492h1v1h-1zM848,493h1v1h-1zM847,494h1v1h-1zM847,495h1v1h-1zM846,496h1v1h-1zM846,497h1v1h-1zM845,498h1v1h-1zM844,499h1v1h-1zM844,500h1v1h-1zM843,501h1v1h-1zM842,502h1v1h-1zM842,503h1v1h-1zM841,504h1v1h-1zM840,505h1v1h-1zM840,506h1v1h-1zM839,507h1v1h-1zM839,508h1v1h-1zM838,509h1v1h-1zM837,510h1v1h-1zM837,511h1v1h-1zM836,512h1v1h-1zM835,513h1v1h-1zM834,514h1v1h-1zM834,515h1v1h-1zM833,516h1v1h-1zM832,517h1v1h-1zM831,518h1v1h-1zM831,519h1v1h-1zM830,520h1v1h-1zM829,521h1v1h-1zM828,522h1v1h-1zM828,523h1v1h-1zM827,524h1v1h-1zM826,525h1v1h-1zM825,526h1v1h-1zM825,527h1v1h-1zM824,528h1v1h-1zM823,529h1v1h-1zM822,530h1v1h-1zM822,531h1v1h-1zM821,532h1v1h-1zM820,533h1v1h-1zM819,534h1v1h-1zM819,535h1v1h-1zM818,536h1v1h-1zM817,537h1v1h-1zM816,538h1v1h-1zM815,539h1v1h-1zM814,540h1v1h-1zM813,541h1v1h-1zM812,542h1v1h-1zM812,543h1v1h-1zM811,544h1v1h-1zM810,545h1v1h-1zM809,546h1v1h-1zM808,547h1v1h-1zM807,548h1v1h-1zM806,549h1v1h-1zM805,550h1v1h-1zM804,551h1v1h-1zM803,552h1v1h-1zM803,553h1v1h-1zM802,554h1v1h-1zM801,555h1v1h-1zM800,556h1v1h-1zM799,557h1v1h-1zM798,558h1v1h-1zM797,559h1v1h-1zM796,560h1v1h-1zM795,561h1v1h-1zM794,562h1v1h-1zM793,563h1v1h-1zM793,564h1v1h-1zM792,565h1v1h-1zM791,566h1v1h-1zM790,567h1v1h-1zM789,568h1v1h-1zM788,569h1v1h-1zM787,570h1v1h-1zM786,571h1v1h-1zM785,572h1v1h-1zM784,573h1v1h-1zM784,574h1v1h-1zM783,575h1v1h-1zM782,576h1v1h-1zM781,577h1v1h-1zM780,578h1v1h-1zM779,579h1v1h-1z"/>
</g>
<g shape-rendering="crispEdges">
<rect x="0" y="29" width="1625" height="1" fill="#ff0000"/>
<rect x="0" y="49" width="1625" height="1" fill="#ff0000"/>
<rect x="0" y="117" width="1625" height="1" fill="#32cd32"/>
<rect x="0" y="141" width="1625" height="1" fill="#0000ff"/>
<rect x="0" y="177" width="1625" height="1" fill="#0000ff"/>
<rect x="-2" y="396" width="1" height="32" fill="#000"/>
<rect x="-7" y="396" width="11" height="32" fill="#000"/>
<rect x="14" y="410" width="1" height="38" fill="#000"/>
<rect x="9" y="419" width="11" height="12" fill="#000"/><rect x="10" y="420" width="9" height="10" fill="#fff"/>
<rect x="30" y="416" width="1" height="32" fill="#000"/>
<rect x="25" y="416" width="11" height="29" fill="#000"/>
<rect x="46" y="408" width="1" height="69" fill="#000"/>
<rect x="41" y="444" width="11" height="4" fill="#000"/><rect x="42" y="445" width="9" height="2" fill="#fff"/>
<rect x="62" y="433" width="1" height="32" fill="#000"/>
<rect x="57" y="436" width="11" height="7" fill="#000"/><rect x="58" y="437" width="9" height="5" fill="#fff"/>
<rect x="78" y="413" width="1" height="38" fill="#000"/>
<rect x="73" y="419" width="11" height="15" fill="#000"/><rect x="74" y="420" width="9" height="13" fill="#fff"/>
<rect x="94" y="408" width="1" height="35" fill="#000"/>
<rect x="89" y="410" width="11" height="11" fill="#000"/><rect x="90" y="411" width="9" height="9" fill="#fff"/>
<rect x="110" y="405" width="1" height="15" fill="#000"/>
<rect x="105" y="412" width="11" height="4" fill="#000"/>
<rect x="126" y="410" width="1" height="24" fill="#000"/>
<rect x="121" y="416" width="11" height="15" fill="#000"/>
<rect x="142" y="379" width="1" height="61" fill="#000"/>
<rect x="137" y="391" width="11" height="43" fill="#000"/><rect x="138" y="392" width="9" height="41" fill="#fff"/>
<rect x="158" y="385" width="1" height="32" fill="#000"/>
<rect x="153" y="394" width="11" height="3" fill="#000"/>
<rect x="174" y="368" width="1" height="35" fill="#000"/>
<rect x="169" y="376" width="11" height="23" fill="#000"/><rect x="170" y="377" width="9" height="21" fill="#fff"/>
<rect x="190" y="371" width="1" height="18" fill="#000"/>
<rect x="185" y="374" width="11" height="2" fill="#000"/>
<rect x="206" y="365" width="1" height="16" fill="#000"/>
<rect x="201" y="365" width="11" height="7" fill="#000"/><rect x="202" y="366" width="9" height="5" fill="#fff"/>
<rect x="222" y="306" width="1" height="57" fill="#000"/>
<rect x="217" y="334" width="11" height="29" fill="#000"/><rect x="218" y="335" width="9" height="27" fill="#fff"/>
<rect x="238" y="340" width="1" height="94" fill="#000"/>
<rect x="233" y="340" width="11" height="77" fill="#000"/>
<rect x="254" y="396" width="1" height="38" fill="#000"/>
<rect x="249" y="405" width="11" height="9" fill="#000"/><rect x="250" y="406" width="9" height="7" fill="#fff"/>
<rect x="270" y="399" width="1" height="46" fill="#000"/>
<rect x="265" y="402" width="11" height="15" fill="#000"/>
<rect x="286" y="402" width="1" height="32" fill="#000"/>
<rect x="281" y="405" width="11" height="15" fill="#000"/><rect x="282" y="406" width="9" height="13" fill="#fff"/>
<rect x="302" y="393" width="1" height="16" fill="#000"/>
<rect x="297" y="401" width="11" height="3" fill="#000"/><rect x="298" y="402" width="9" height="1" fill="#fff"/>
<rect x="318" y="399" width="1" height="21" fill="#000"/>
<rect x="313" y="399" width="11" height="21" fill="#000"/>
<rect x="334" y="391" width="1" height="66" fill="#000"/>
<rect x="329" y="405" width="11" height="12" fill="#000"/><rect x="330" y="406" width="9" height="10" fill="#fff"/>
<rect x="350" y="399" width="1" height="38" fill="#000"/>
<rect x="345" y="402" width="11" height="18" fill="#000"/>
<rect x="366" y="413" width="1" height="105" fill="#000"/>
<rect x="361" y="416" width="11" height="69" fill="#000"/>
<rect x="382" y="467" width="1" height="32" fill="#000"/>
<rect x="377" y="485" width="11" height="14" fill="#000"/>
<rect x="398" y="490" width="1" height="16" fill="#000"/>
<rect x="393" y="497" width="11" height="6" fill="#000"/>
<rect x="414" y="504" width="1" height="29" fill="#000"/>
<rect x="409" y="504" width="11" height="26" fill="#000"/>
<rect x="430" y="467" width="1" height="75" fill="#000"/>
<rect x="425" y="478" width="11" height="57" fill="#000"/><rect x="426" y="479" width="9" height="55" fill="#fff"/>
<rect x="446" y="437" width="1" height="48" fill="#000"/>
<rect x="441" y="444" width="11" height="38" fill="#000"/><rect x="442" y="445" width="9" height="36" fill="#fff"/>
<rect x="462" y="436" width="1" height="55" fill="#000"/>
<rect x="457" y="447" width="11" height="41" fill="#000"/>
<rect x="478" y="481" width="1" height="24" fill="#000"/>
<rect x="473" y="484" width="11" height="7" fill="#000"/>
<rect x="494" y="476" width="1" height="15" fill="#000"/>
<rect x="489" y="480" width="11" height="9" fill="#000"/><rect x="490" y="481" width="9" height="7" fill="#fff"/>
<rect x="510" y="461" width="1" height="33" fill="#000"/>
<rect x="505" y="481" width="11" height="4" fill="#000"/><rect x="506" y="482" width="9" height="2" fill="#fff"/>
<rect x="526" y="442" width="1" height="57" fill="#000"/>
<rect x="521" y="473" width="11" height="6" fill="#000"/><rect x="522" y="474" width="9" height="4" fill="#fff"/>
<rect x="542" y="444" width="1" height="50" fill="#000"/>
<rect x="537" y="464" width="11" height="7" fill="#000"/><rect x="538" y="465" width="9" height="5" fill="#fff"/>
<rect x="558" y="436" width="1" height="32" fill="#000"/>
<rect x="553" y="444" width="11" height="20" fill="#000"/><rect x="554" y="445" width="9" height="18" fill="#fff"/>
<rect x="574" y="430" width="1" height="35" fill="#000"/>
<rect x="569" y="447" width="11" height="15" fill="#000"/>
<rect x="590" y="442" width="1" height="20" fill="#000"/>
<rect x="585" y="444" width="11" height="18" fill="#000"/><rect x="586" y="445" width="9" height="16" fill="#fff"/>
<rect x="606" y="393" width="1" height="64" fill="#000"/>
<rect x="601" y="393" width="11" height="44" fill="#000"/><rect x="602" y="394" width="9" height="42" fill="#fff"/>
<rect x="622" y="364" width="1" height="98" fill="#000"/>
<rect x="617" y="391" width="11" height="6" fill="#000"/>
<rect x="638" y="258" width="1" height="142" fill="#000"/>
<rect x="633" y="259" width="11" height="141" fill="#000"/><rect x="634" y="260" width="9" height="139" fill="#fff"/>
<rect x="654" y="241" width="1" height="37" fill="#000"/>
<rect x="649" y="258" width="11" height="6" fill="#000"/>
<rect x="670" y="249" width="1" height="29" fill="#000"/>
<rect x="665" y="258" width="11" height="8" fill="#000"/><rect x="666" y="259" width="9" height="6" fill="#fff"/>
<rect x="686" y="252" width="1" height="9" fill="#000"/>
<rect x="681" y="252" width="11" height="8" fill="#000"/><rect x="682" y="253" width="9" height="6" fill="#fff"/>
<rect x="702" y="218" width="1" height="18" fill="#000"/>
<rect x="697" y="229" width="11" height="5" fill="#000"/><rect x="698" y="230" width="9" height="3" fill="#fff"/>
<rect x="718" y="156" width="1" height="83" fill="#000"/>
<rect x="713" y="181" width="11" height="52" fill="#000"/><rect x="714" y="182" width="9" height="50" fill="#fff"/>
<rect x="734" y="173" width="1" height="37" fill="#000"/>
<rect x="729" y="184" width="11" height="9" fill="#000"/>
<rect x="750" y="187" width="1" height="33" fill="#000"/>
<rect x="745" y="195" width="11" height="10" fill="#000"/>
<rect x="766" y="192" width="1" height="24" fill="#000"/>
<rect x="761" y="192" width="11" height="16" fill="#000"/><rect x="762" y="193" width="9" height="14" fill="#fff"/>
<rect x="782" y="192" width="1" height="18" fill="#000"/>
<rect x="777" y="194" width="11" height="11" fill="#000"/>
<rect x="798" y="195" width="1" height="18" fill="#000"/>
<rect x="793" y="201" width="11" height="7" fill="#000"/>
<rect x="814" y="141" width="1" height="72" fill="#000"/>
<rect x="809" y="164" width="11" height="46" fill="#000"/><rect x="810" y="165" width="9" height="44" fill="#fff"/>
<rect x="830" y="127" width="1" height="44" fill="#000"/>
<rect x="825" y="136" width="11" height="32" fill="#000"/><rect x="826" y="137" width="9" height="30" fill="#fff"/>
<rect x="846" y="102" width="1" height="38" fill="#000"/>
<rect x="841" y="133" width="11" height="7" fill="#000"/><rect x="842" y="134" width="9" height="5" fill="#fff"/>
<rect x="862" y="122" width="1" height="18" fill="#000"/>
<rect x="857" y="126" width="11" height="9" fill="#000"/><rect x="858" y="127" width="9" height="7" fill="#fff"/>
<rect x="878" y="122" width="1" height="28" fill="#000"/>
<rect x="873" y="127" width="11" height="23" fill="#000"/>
<rect x="894" y="130" width="1" height="18" fill="#000"/>
<rect x="889" y="137" width="11" height="8" fill="#000"/><rect x="890" y="138" width="9" height="6" fill="#fff"/>
<rect x="910" y="91" width="1" height="91" fill="#000"/>
<rect x="905" y="127" width="11" height="21" fill="#000"/><rect x="906" y="128" width="9" height="19" fill="#fff"/>
<rect x="926" y="102" width="1" height="38" fill="#000"/>
<rect x="921" y="105" width="11" height="26" fill="#000"/><rect x="922" y="106" width="9" height="24" fill="#fff"/>
<rect x="942" y="88" width="1" height="46" fill="#000"/>
<rect x="937" y="102" width="11" height="15" fill="#000"/>
<rect x="958" y="110" width="1" height="35" fill="#000"/>
<rect x="953" y="113" width="11" height="15" fill="#000"/>
<rect x="974" y="119" width="1" height="18" fill="#000"/>
<rect x="969" y="130" width="11" height="3" fill="#000"/>
<rect x="990" y="124" width="1" height="18" fill="#000"/>
<rect x="985" y="127" width="11" height="4" fill="#000"/><rect x="986" y="128" width="9" height="2" fill="#fff"/>
<rect x="1006" y="119" width="1" height="117" fill="#000"/>
<rect x="1001" y="124" width="11" height="98" fill="#000"/>
<rect x="1022" y="184" width="1" height="72" fill="#000"/>
<rect x="1017" y="201" width="11" height="18" fill="#000"/><rect x="1018" y="202" width="9" height="16" fill="#fff"/>
<rect x="1038" y="139" width="1" height="64" fill="#000"/>
<rect x="1033" y="170" width="11" height="31" fill="#000"/><rect x="1034" y="171" width="9" height="29" fill="#fff"/>
<rect x="1054" y="130" width="1" height="41" fill="#000"/>
<rect x="1049" y="133" width="11" height="35" fill="#000"/><rect x="1050" y="134" width="9" height="33" fill="#fff"/>
<rect x="1070" y="133" width="1" height="24" fill="#000"/>
<rect x="1065" y="136" width="11" height="1" fill="#000"/>
<rect x="1086" y="139" width="1" height="15" fill="#000"/>
<rect x="1081" y="139" width="11" height="15" fill="#000"/>
<rect x="1102" y="144" width="1" height="47" fill="#000"/>
<rect x="1097" y="147" width="11" height="29" fill="#000"/>
<rect x="1118" y="164" width="1" height="24" fill="#000"/>
<rect x="1113" y="175" width="11" height="4" fill="#000"/><rect x="1114" y="176" width="9" height="2" fill="#fff"/>
<rect x="1134" y="173" width="1" height="6" fill="#000"/>
<rect x="1129" y="174" width="11" height="4" fill="#000"/><rect x="1130" y="175" width="9" height="2" fill="#fff"/>
<rect x="1150" y="173" width="1" height="3" fill="#000"/>
<rect x="1145" y="173" width="11" height="1" fill="#000"/>
<rect x="1166" y="170" width="1" height="4" fill="#000"/>
<rect x="1161" y="171" width="11" height="3" fill="#000"/>
<rect x="1182" y="144" width="1" height="35" fill="#000"/>
<rect x="1177" y="144" width="11" height="27" fill="#000"/>
<rect x="1198" y="124" width="1" height="108" fill="#000"/>
<rect x="1193" y="173" width="11" height="6" fill="#000"/>
<rect x="1214" y="141" width="1" height="40" fill="#000"/>
<rect x="1209" y="156" width="11" height="25" fill="#000"/><rect x="1210" y="157" width="9" height="23" fill="#fff"/>
<rect x="1230" y="150" width="1" height="29" fill="#000"/>
<rect x="1225" y="153" width="11" height="2" fill="#000"/>
<rect x="1246" y="141" width="1" height="18" fill="#000"/>
<rect x="1241" y="149" width="11" height="2" fill="#000"/>
<rect x="1262" y="118" width="1" height="39" fill="#000"/>
<rect x="1257" y="118" width="11" height="33" fill="#000"/><rect x="1258" y="119" width="9" height="31" fill="#fff"/>
<rect x="1278" y="139" width="1" height="15" fill="#000"/>
<rect x="1273" y="139" width="11" height="6" fill="#000"/>
<rect x="1294" y="130" width="1" height="86" fill="#000"/>
<rect x="1289" y="147" width="11" height="18" fill="#000"/>
<rect x="1310" y="130" width="1" height="38" fill="#000"/>
<rect x="1305" y="153" width="11" height="11" fill="#000"/><rect x="1306" y="154" width="9" height="9" fill="#fff"/>
<rect x="1326" y="110" width="1" height="44" fill="#000"/>
<rect x="1321" y="118" width="11" height="34" fill="#000"/><rect x="1322" y="119" width="9" height="32" fill="#fff"/>
<rect x="1342" y="91" width="1" height="28" fill="#000"/>
<rect x="1337" y="99" width="11" height="20" fill="#000"/><rect x="1338" y="100" width="9" height="18" fill="#fff"/>
<rect x="1358" y="79" width="1" height="24" fill="#000"/>
<rect x="1353" y="79" width="11" height="18" fill="#000"/><rect x="1354" y="80" width="9" height="16" fill="#fff"/>
<rect x="1252" y="111" width="100" height="15" fill="#00ff00"/>
<rect x="1620" y="27" width="5" height="5" fill="#ff0000"/><rect x="1621" y="28" width="3" height="3" fill="#fff"/>
<rect x="1620" y="47" width="5" height="5" fill="#ff0000"/><rect x="1621" y="48" width="3" height="3" fill="#fff"/>
<rect x="1620" y="115" width="5" height="5" fill="#32cd32"/><rect x="1621" y="116" width="3" height="3" fill="#fff"/>
<rect x="1620" y="139" width="5" height="5" fill="#0000ff"/><rect x="1621" y="140" width="3" height="3" fill="#fff"/>
<rect x="1620" y="175" width="5" height="5" fill="#0000ff"/><rect x="1621" y="176" width="3" height="3" fill="#fff"/>
<rect x="-1" y="27" width="5" height="5" fill="#ff0000"/><rect x="0" y="28" width="3" height="3" fill="#fff"/>
<rect x="-1" y="115" width="5" height="5" fill="#32cd32"/><rect x="0" y="116" width="3" height="3" fill="#fff"/>
<rect x="-1" y="139" width="5" height="5" fill="#0000ff"/><rect x="0" y="140" width="3" height="3" fill="#fff"/>
<rect x="-1" y="175" width="5" height="5" fill="#0000ff"/><rect x="0" y="176" width="3" height="3" fill="#fff"/>
<rect x="13" y="606" width="2" height="133" fill="#c0c0c0"/>
<rect x="29" y="610" width="2" height="129" fill="#c0c0c0"/>
<rect x="45" y="616" width="2" height="123" fill="#c0c0c0"/>
<rect x="61" y="620" width="2" height="119" fill="#c0c0c0"/>
<rect x="77" y="622" width="2" height="117" fill="#c0c0c0"/>
<rect x="93" y="623" width="2" height="116" fill="#c0c0c0"/>
<rect x="109" y="627" width="2" height="112" fill="#c0c0c0"/>
<rect x="125" y="633" width="2" height="106" fill="#c0c0c0"/>
<rect x="141" y="633" width="2" height="106" fill="#c0c0c0"/>
<rect x="157" y="635" width="2" height="104" fill="#c0c0c0"/>
<rect x="173" y="634" width="2" height="105" fill="#c0c0c0"/>
<rect x="189" y="635" width="2" height="104" fill="#c0c0c0"/>
<rect x="205" y="635" width="2" height="104" fill="#c0c0c0"/>
<rect x="221" y="632" width="2" height="107" fill="#c0c0c0"/>
<rect x="237" y="643" width="2" height="96" fill="#c0c0c0"/>
<rect x="253" y="651" width="2" height="88" fill="#c0c0c0"/>
<rect x="269" y="660" width="2" height="79" fill="#c0c0c0"/>
<rect x="285" y="666" width="2" height="73" fill="#c0c0c0"/>
<rect x="301" y="672" width="2" height="67" fill="#c0c0c0"/>
<rect x="317" y="679" width="2" height="60" fill="#c0c0c0"/>
<rect x="333" y="684" width="2" height="55" fill="#c0c0c0"/>
<rect x="349" y="690" width="2" height="49" fill="#c0c0c0"/>
<rect x="365" y="706" width="2" height="33" fill="#c0c0c0"/>
<rect x="381" y="720" width="2" height="19" fill="#c0c0c0"/>
<rect x="397" y="733" width="2" height="6" fill="#c0c0c0"/>
<rect x="413" y="738" width="2" height="10" fill="#c0c0c0"/>
<rect x="429" y="738" width="2" height="13" fill="#c0c0c0"/>
<rect x="445" y="738" width="2" height="10" fill="#c0c0c0"/>
<rect x="461" y="738" width="2" height="14" fill="#c0c0c0"/>
<rect x="477" y="738" width="2" height="17" fill="#c0c0c0"/>
<rect x="493" y="738" width="2" height="18" fill="#c0c0c0"/>
<rect x="509" y="738" width="2" height="19" fill="#c0c0c0"/>
<rect x="525" y="738" width="2" height="18" fill="#c0c0c0"/>
<rect x="541" y="738" width="2" height="16" fill="#c0c0c0"/>
<rect x="557" y="738" width="2" height="11" fill="#c0c0c0"/>
<rect x="573" y="738" width="2" height="10" fill="#c0c0c0"/>
<rect x="589" y="738" width="2" height="6" fill="#c0c0c0"/>
<rect x="605" y="732" width="2" height="7" fill="#c0c0c0"/>
<rect x="621" y="724" width="2" height="15" fill="#c0c0c0"/>
<rect x="637" y="697" width="2" height="42" fill="#c0c0c0"/>
<rect x="653" y="676" width="2" height="63" fill="#c0c0c0"/>
<rect x="669" y="660" width="2" height="79" fill="#c0c0c0"/>
<rect x="685" y="647" width="2" height="92" fill="#c0c0c0"/>
<rect x="701" y="635" width="2" height="104" fill="#c0c0c0"/>
<rect x="717" y="619" width="2" height="120" fill="#c0c0c0"/>
<rect x="733" y="610" width="2" height="129" fill="#c0c0c0"/>
<rect x="749" y="605" width="2" height="134" fill="#c0c0c0"/>
<rect x="765" y="602" width="2" height="137" fill="#c0c0c0"/>
<rect x="781" y="603" width="2" height="136" fill="#c0c0c0"/>
<rect x="797" y="605" width="2" height="134" fill="#c0c0c0"/>
<rect x="813" y="602" width="2" height="137" fill="#c0c0c0"/>
<rect x="829" y="596" width="2" height="143" fill="#c0c0c0"/>
<rect x="845" y="594" width="2" height="145" fill="#c0c0c0"/>
<rect x="861" y="592" width="2" height="147" fill="#c0c0c0"/>
<rect x="877" y="596" width="2" height="143" fill="#c0c0c0"/>
<rect x="893" y="598" width="2" height="141" fill="#c0c0c0"/>
<rect x="909" y="601" width="2" height="138" fill="#c0c0c0"/>
<rect x="925" y="600" width="2" height="139" fill="#c0c0c0"/>
<rect x="941" y="604" width="2" height="135" fill="#c0c0c0"/>
<rect x="957" y="610" width="2" height="129" fill="#c0c0c0"/>
<rect x="973" y="616" width="2" height="123" fill="#c0c0c0"/>
<rect x="989" y="622" width="2" height="117" fill="#c0c0c0"/>
<rect x="1005" y="643" width="2" height="96" fill="#c0c0c0"/>
<rect x="1021" y="657" width="2" height="82" fill="#c0c0c0"/>
<rect x="1037" y="664" width="2" height="75" fill="#c0c0c0"/>
<rect x="1053" y="665" width="2" height="74" fill="#c0c0c0"/>
<rect x="1069" y="667" width="2" height="72" fill="#c0c0c0"/>
<rect x="1085" y="671" width="2" height="68" fill="#c0c0c0"/>
<rect x="1101" y="680" width="2" height="59" fill="#c0c0c0"/>
<rect x="1117" y="687" width="2" height="52" fill="#c0c0c0"/>
<rect x="1133" y="693" width="2" height="46" fill="#c0c0c0"/>
<rect x="1149" y="697" width="2" height="42" fill="#c0c0c0"/>
<rect x="1165" y="702" width="2" height="37" fill="#c0c0c0"/>
<rect x="1181" y="705" width="2" height="34" fill="#c0c0c0"/>
<rect x="1197" y="709" width="2" height="30" fill="#c0c0c0"/>
<rect x="1213" y="710" width="2" height="29" fill="#c0c0c0"/>
<rect x="1229" y="710" width="2" height="29" fill="#c0c0c0"/>
<rect x="1245" y="709" width="2" height="30" fill="#c0c0c0"/>
<rect x="1261" y="705" width="2" height="34" fill="#c0c0c0"/>
<rect x="1277" y="707" width="2" height="32" fill="#c0c0c0"/>
<rect x="1293" y="710" width="2" height="29" fill="#c0c0c0"/>
<rect x="1309" y="712" width="2" height="27" fill="#c0c0c0"/>
<rect x="1325" y="709" width="2" height="30" fill="#c0c0c0"/>
<rect x="1341" y="703" width="2" height="36" fill="#c0c0c0"/>
<rect x="1357" y="696" width="2" height="43" fill="#c0c0c0"/>
</g>
<path d="M906,598h3v1h-3zM912,598h3v1h-3zM918,598h3v1h-3zM924,598h3v1h-3zM930,598h3v1h-3zM936,598h3v1h-3zM942,598h3v1h-3zM948,598h3v1h-3zM876,599h3v1h-3zM882,599h3v1h-3zM888,599h3v1h-3zM894,599h3v1h-3zM900,599h3v1h-3zM954,599h3v1h-3zM960,599h3v1h-3zM870,600h3v1h-3zM966,600h3v1h-3zM864,601h3v1h-3zM972,601h3v1h-3zM858,602h3v1h-3zM978,602h2v1h-2zM852,603h3v1h-3zM980,603h1v1h-1zM984,603h1v1h-1zM846,604h3v1h-3zM985,604h2v1h-2zM841,605h2v1h-2zM990,605h3v1h-3zM840,606h1v1h-1zM834,607h3v1h-3zM996,607h3v1h-3zM830,608h1v1h-1zM828,609h2v1h-2zM1002,609h2v1h-2zM1004,610h1v1h-1zM822,611h3v1h-3zM1008,611h2v1h-2zM1010,612h1v1h-1zM817,613h2v1h-2zM86,614h1v1h-1zM90,614h3v1h-3zM96,614h3v1h-3zM816,614h1v1h-1zM1014,614h2v1h-2zM74,615h1v1h-1zM78,615h3v1h-3zM84,615h2v1h-2zM102,615h3v1h-3zM108,615h3v1h-3zM812,615h1v1h-1zM1016,615h1v1h-1zM66,616h3v1h-3zM72,616h2v1h-2zM114,616h2v1h-2zM810,616h2v1h-2zM1020,616h1v1h-1zM60,617h3v1h-3zM116,617h1v1h-1zM1021,617h2v1h-2zM50,618h1v1h-1zM54,618h3v1h-3zM120,618h3v1h-3zM805,618h2v1h-2zM38,619h1v1h-1zM42,619h3v1h-3zM48,619h2v1h-2zM126,619h3v1h-3zM804,619h1v1h-1zM1026,619h2v1h-2zM24,620h3v1h-3zM30,620h3v1h-3zM36,620h2v1h-2zM132,620h3v1h-3zM1028,620h1v1h-1zM12,621h3v1h-3zM18,621h3v1h-3zM138,621h3v1h-3zM144,621h1v1h-1zM799,621h2v1h-2zM6,622h3v1h-3zM145,622h2v1h-2zM798,622h1v1h-1zM1032,622h3v1h-3zM0,623h3v1h-3zM150,623h3v1h-3zM156,624h3v1h-3zM793,624h2v1h-2zM1038,624h1v1h-1zM162,625h2v1h-2zM792,625h1v1h-1zM1039,625h2v1h-2zM164,626h1v1h-1zM168,627h3v1h-3zM788,627h1v1h-1zM1044,627h2v1h-2zM174,628h3v1h-3zM786,628h2v1h-2zM1046,628h1v1h-1zM180,629h3v1h-3zM1050,629h1v1h-1zM186,630h3v1h-3zM192,630h3v1h-3zM1051,630h2v1h-2zM198,631h3v1h-3zM204,631h3v1h-3zM781,631h2v1h-2zM210,632h3v1h-3zM216,632h2v1h-2zM780,632h1v1h-1zM1056,632h2v1h-2zM218,633h1v1h-1zM222,633h3v1h-3zM228,633h2v1h-2zM1058,633h1v1h-1zM230,634h1v1h-1zM234,634h3v1h-3zM240,634h1v1h-1zM776,634h1v1h-1zM241,635h2v1h-2zM775,635h1v1h-1zM1062,635h2v1h-2zM246,636h3v1h-3zM774,636h1v1h-1zM1064,636h1v1h-1zM252,637h3v1h-3zM1068,637h1v1h-1zM258,638h3v1h-3zM770,638h1v1h-1zM1069,638h2v1h-2zM264,639h3v1h-3zM768,639h2v1h-2zM270,640h3v1h-3zM1074,640h2v1h-2zM276,641h2v1h-2zM1076,641h1v1h-1zM278,642h1v1h-1zM282,642h2v1h-2zM764,642h1v1h-1zM284,643h1v1h-1zM763,643h1v1h-1zM1080,643h3v1h-3zM288,644h3v1h-3zM762,644h1v1h-1zM1086,645h1v1h-1zM294,646h3v1h-3zM1087,646h2v1h-2zM300,647h1v1h-1zM758,647h1v1h-1zM1088,647h1v1h-1zM301,648h2v1h-2zM757,648h1v1h-1zM1089,648h2v1h-2zM756,649h1v1h-1zM306,650h3v1h-3zM1094,651h2v1h-2zM312,652h2v1h-2zM752,652h1v1h-1zM1096,652h1v1h-1zM314,653h1v1h-1zM751,653h1v1h-1zM318,654h2v1h-2zM750,654h1v1h-1zM1100,654h2v1h-2zM320,655h1v1h-1zM1102,655h1v1h-1zM324,656h2v1h-2zM326,657h1v1h-1zM746,657h1v1h-1zM1106,657h2v1h-2zM330,658h3v1h-3zM745,658h1v1h-1zM1108,658h1v1h-1zM744,659h1v1h-1zM336,660h2v1h-2zM1112,660h2v1h-2zM338,661h1v1h-1zM1114,661h1v1h-1zM342,662h2v1h-2zM1118,662h1v1h-1zM344,663h1v1h-1zM739,663h2v1h-2zM1119,663h2v1h-2zM348,664h1v1h-1zM738,664h1v1h-1zM349,665h2v1h-2zM1124,665h2v1h-2zM1126,666h1v1h-1zM354,667h2v1h-2zM356,668h1v1h-1zM734,668h1v1h-1zM1130,668h2v1h-2zM360,669h1v1h-1zM732,669h2v1h-2zM1132,669h1v1h-1zM361,670h2v1h-2zM1136,670h1v1h-1zM1137,671h2v1h-2zM366,672h1v1h-1zM367,673h2v1h-2zM727,673h2v1h-2zM1142,673h3v1h-3zM726,674h1v1h-1zM372,675h1v1h-1zM1148,675h2v1h-2zM373,676h2v1h-2zM1150,676h1v1h-1zM1154,677h2v1h-2zM378,678h1v1h-1zM721,678h2v1h-2zM1156,678h1v1h-1zM379,679h2v1h-2zM720,679h1v1h-1zM1160,679h2v1h-2zM1162,680h1v1h-1zM384,681h1v1h-1zM1166,681h2v1h-2zM385,682h2v1h-2zM1168,682h1v1h-1zM716,683h1v1h-1zM1172,683h3v1h-3zM715,684h1v1h-1zM1178,684h2v1h-2zM390,685h2v1h-2zM714,685h1v1h-1zM1180,685h1v1h-1zM392,686h1v1h-1zM1184,686h3v1h-3zM396,688h1v1h-1zM710,688h1v1h-1zM1190,688h3v1h-3zM397,689h2v1h-2zM709,689h1v1h-1zM708,690h1v1h-1zM1196,690h2v1h-2zM1198,691h1v1h-1zM402,692h1v1h-1zM1202,692h1v1h-1zM403,693h2v1h-2zM1203,693h2v1h-2zM704,694h1v1h-1zM1208,694h3v1h-3zM703,695h1v1h-1zM1214,695h2v1h-2zM408,696h2v1h-2zM702,696h1v1h-1zM1216,696h1v1h-1zM410,697h1v1h-1zM1220,697h3v1h-3zM1226,698h3v1h-3zM414,699h1v1h-1zM698,699h1v1h-1zM1232,699h1v1h-1zM415,700h1v1h-1zM696,700h2v1h-2zM1233,700h2v1h-2zM416,701h1v1h-1zM1238,701h3v1h-3zM1244,702h3v1h-3zM420,703h2v1h-2zM692,703h1v1h-1zM1250,703h3v1h-3zM422,704h1v1h-1zM691,704h1v1h-1zM1256,704h3v1h-3zM690,705h1v1h-1zM1262,705h3v1h-3zM1268,705h3v1h-3zM426,706h1v1h-1zM1274,706h3v1h-3zM1280,706h3v1h-3zM427,707h2v1h-2zM1286,707h3v1h-3zM1292,707h3v1h-3zM1352,707h3v1h-3zM1358,707h1v1h-1zM686,708h1v1h-1zM1298,708h3v1h-3zM1304,708h2v1h-2zM1335,708h2v1h-2zM1340,708h3v1h-3zM1346,708h3v1h-3zM685,709h1v1h-1zM1306,709h1v1h-1zM1310,709h3v1h-3zM1316,709h3v1h-3zM1322,709h3v1h-3zM1328,709h3v1h-3zM1334,709h1v1h-1zM432,710h2v1h-2zM684,710h1v1h-1zM434,711h1v1h-1zM438,713h2v1h-2zM680,713h1v1h-1zM440,714h1v1h-1zM678,714h2v1h-2zM444,716h2v1h-2zM446,717h1v1h-1zM674,718h1v1h-1zM450,719h2v1h-2zM672,719h2v1h-2zM452,720h1v1h-1zM456,722h1v1h-1zM668,722h1v1h-1zM457,723h2v1h-2zM667,723h1v1h-1zM666,724h1v1h-1zM462,725h1v1h-1zM463,726h2v1h-2zM662,726h1v1h-1zM661,727h1v1h-1zM468,728h1v1h-1zM660,728h1v1h-1zM469,729h2v1h-2zM474,731h2v1h-2zM655,731h2v1h-2zM476,732h1v1h-1zM654,732h1v1h-1zM480,733h1v1h-1zM481,734h2v1h-2zM649,734h2v1h-2zM648,735h1v1h-1zM486,736h1v1h-1zM487,737h2v1h-2zM643,737h2v1h-2zM642,738h1v1h-1zM492,739h2v1h-2zM494,740h1v1h-1zM637,740h2v1h-2zM498,741h1v1h-1zM636,741h1v1h-1zM499,742h2v1h-2zM632,742h1v1h-1zM504,743h1v1h-1zM630,743h2v1h-2zM505,744h2v1h-2zM626,744h1v1h-1zM624,745h2v1h-2zM510,746h3v1h-3zM620,746h1v1h-1zM516,747h1v1h-1zM614,747h1v1h-1zM618,747h2v1h-2zM517,748h2v1h-2zM612,748h2v1h-2zM522,749h3v1h-3zM606,749h3v1h-3zM528,750h3v1h-3zM600,750h3v1h-3zM534,751h3v1h-3zM594,751h3v1h-3zM540,752h3v1h-3zM546,752h3v1h-3zM552,752h3v1h-3zM558,752h3v1h-3zM564,752h3v1h-3zM570,752h3v1h-3zM576,752h3v1h-3zM582,752h3v1h-3zM588,752h3v1h-3z" fill="#ff0000" shape-rendering="crispEdges"/>
<g shape-rendering="crispEdges">
<line x1="0" y1="800.5" x2="1625" y2="800.5" stroke="#c0c0c0" stroke-width="1" stroke-dasharray="3,3"/>
<line x1="0" y1="847.5" x2="1625" y2="847.5" stroke="#c0c0c0" stroke-width="1" stroke-dasharray="3,3"/>
<line x1="0" y1="903.5" x2="1625" y2="903.5" stroke="#c0c0c0" stroke-width="1" stroke-dasharray="3,3"/>
</g>
<path d="M718,802h3v1h-3zM714,803h4v1h-4zM721,803h4v1h-4zM855,803h9v1h-9zM711,804h3v1h-3zM725,804h4v1h-4zM829,804h26v1h-26zM864,804h2v1h-2zM708,805h3v1h-3zM729,805h4v1h-4zM825,805h4v1h-4zM866,805h1v1h-1zM704,806h4v1h-4zM733,806h4v1h-4zM821,806h4v1h-4zM867,806h2v1h-2zM926,806h4v1h-4zM700,807h4v1h-4zM737,807h3v1h-3zM817,807h4v1h-4zM869,807h2v1h-2zM920,807h6v1h-6zM930,807h3v1h-3zM694,808h6v1h-6zM740,808h3v1h-3zM814,808h3v1h-3zM871,808h1v1h-1zM914,808h6v1h-6zM933,808h3v1h-3zM689,809h5v1h-5zM743,809h4v1h-4zM763,809h6v1h-6zM811,809h3v1h-3zM872,809h2v1h-2zM907,809h7v1h-7zM936,809h4v1h-4zM638,810h4v1h-4zM666,810h23v1h-23zM747,810h3v1h-3zM755,810h8v1h-8zM769,810h4v1h-4zM809,810h2v1h-2zM874,810h1v1h-1zM899,810h8v1h-8zM940,810h3v1h-3zM637,811h1v1h-1zM642,811h8v1h-8zM658,811h8v1h-8zM750,811h5v1h-5zM773,811h4v1h-4zM806,811h3v1h-3zM875,811h2v1h-2zM891,811h8v1h-8zM943,811h3v1h-3zM637,812h1v1h-1zM650,812h8v1h-8zM777,812h4v1h-4zM803,812h3v1h-3zM877,812h2v1h-2zM883,812h8v1h-8zM946,812h3v1h-3zM636,813h1v1h-1zM781,813h10v1h-10zM801,813h2v1h-2zM879,813h4v1h-4zM949,813h3v1h-3zM221,814h2v1h-2zM635,814h1v1h-1zM791,814h10v1h-10zM952,814h4v1h-4zM218,815h3v1h-3zM223,815h1v1h-1zM634,815h1v1h-1zM956,815h3v1h-3zM214,816h4v1h-4zM223,816h1v1h-1zM634,816h1v1h-1zM959,816h5v1h-5zM211,817h3v1h-3zM224,817h1v1h-1zM633,817h1v1h-1zM964,817h8v1h-8zM984,817h9v1h-9zM208,818h3v1h-3zM225,818h1v1h-1zM632,818h1v1h-1zM972,818h12v1h-12zM992,818h1v1h-1zM202,819h6v1h-6zM225,819h1v1h-1zM631,819h1v1h-1zM993,819h1v1h-1zM194,820h8v1h-8zM226,820h1v1h-1zM631,820h1v1h-1zM993,820h1v1h-1zM172,821h22v1h-22zM226,821h1v1h-1zM630,821h1v1h-1zM994,821h1v1h-1zM1357,821h2v1h-2zM168,822h4v1h-4zM227,822h1v1h-1zM629,822h1v1h-1zM994,822h1v1h-1zM1354,822h3v1h-3zM7,823h9v1h-9zM141,823h5v1h-5zM164,823h4v1h-4zM228,823h1v1h-1zM629,823h1v1h-1zM995,823h1v1h-1zM1350,823h4v1h-4zM0,824h7v1h-7zM16,824h2v1h-2zM90,824h8v1h-8zM139,824h2v1h-2zM146,824h8v1h-8zM160,824h4v1h-4zM228,824h1v1h-1zM628,824h1v1h-1zM995,824h1v1h-1zM1347,824h3v1h-3zM18,825h3v1h-3zM82,825h8v1h-8zM98,825h8v1h-8zM137,825h2v1h-2zM154,825h6v1h-6zM229,825h1v1h-1zM627,825h1v1h-1zM996,825h1v1h-1zM1344,825h3v1h-3zM21,826h3v1h-3zM74,826h8v1h-8zM106,826h6v1h-6zM135,826h2v1h-2zM230,826h1v1h-1zM626,826h1v1h-1zM996,826h1v1h-1zM1261,826h2v1h-2zM1341,826h3v1h-3zM24,827h2v1h-2zM66,827h8v1h-8zM112,827h3v1h-3zM133,827h2v1h-2zM230,827h1v1h-1zM626,827h1v1h-1zM997,827h1v1h-1zM1259,827h2v1h-2zM1263,827h2v1h-2zM1338,827h3v1h-3zM26,828h3v1h-3zM54,828h12v1h-12zM115,828h3v1h-3zM131,828h2v1h-2zM231,828h1v1h-1zM625,828h1v1h-1zM997,828h1v1h-1zM1257,828h2v1h-2zM1265,828h1v1h-1zM1334,828h4v1h-4zM29,829h25v1h-25zM118,829h4v1h-4zM129,829h2v1h-2zM232,829h1v1h-1zM624,829h1v1h-1zM998,829h1v1h-1zM1255,829h2v1h-2zM1266,829h2v1h-2zM1331,829h3v1h-3zM122,830h3v1h-3zM127,830h2v1h-2zM232,830h1v1h-1zM606,830h4v1h-4zM623,830h1v1h-1zM998,830h1v1h-1zM1055,830h5v1h-5zM1253,830h2v1h-2zM1268,830h2v1h-2zM1328,830h3v1h-3zM125,831h2v1h-2zM233,831h1v1h-1zM605,831h1v1h-1zM610,831h8v1h-8zM623,831h1v1h-1zM999,831h1v1h-1zM1053,831h2v1h-2zM1060,831h8v1h-8zM1251,831h2v1h-2zM1270,831h1v1h-1zM1326,831h2v1h-2zM234,832h1v1h-1zM603,832h2v1h-2zM618,832h5v1h-5zM999,832h1v1h-1zM1051,832h2v1h-2zM1068,832h6v1h-6zM1249,832h2v1h-2zM1271,832h2v1h-2zM1324,832h2v1h-2zM234,833h1v1h-1zM602,833h1v1h-1zM1000,833h1v1h-1zM1048,833h3v1h-3zM1074,833h4v1h-4zM1247,833h2v1h-2zM1273,833h1v1h-1zM1322,833h2v1h-2zM235,834h1v1h-1zM601,834h1v1h-1zM1000,834h1v1h-1zM1046,834h2v1h-2zM1078,834h3v1h-3zM1242,834h5v1h-5zM1274,834h2v1h-2zM1321,834h1v1h-1zM235,835h1v1h-1zM600,835h1v1h-1zM1000,835h1v1h-1zM1044,835h2v1h-2zM1081,835h4v1h-4zM1234,835h8v1h-8zM1276,835h2v1h-2zM1319,835h2v1h-2zM236,836h1v1h-1zM598,836h2v1h-2zM1001,836h1v1h-1zM1042,836h2v1h-2zM1085,836h2v1h-2zM1222,836h12v1h-12zM1278,836h1v1h-1zM1318,836h1v1h-1zM237,837h1v1h-1zM250,837h7v1h-7zM294,837h10v1h-10zM597,837h1v1h-1zM1001,837h1v1h-1zM1039,837h3v1h-3zM1087,837h2v1h-2zM1213,837h9v1h-9zM1279,837h2v1h-2zM1316,837h2v1h-2zM237,838h1v1h-1zM242,838h8v1h-8zM257,838h5v1h-5zM282,838h12v1h-12zM304,838h3v1h-3zM596,838h1v1h-1zM1002,838h1v1h-1zM1037,838h2v1h-2zM1089,838h2v1h-2zM1211,838h2v1h-2zM1281,838h2v1h-2zM1314,838h2v1h-2zM238,839h4v1h-4zM262,839h6v1h-6zM274,839h8v1h-8zM307,839h3v1h-3zM332,839h4v1h-4zM595,839h1v1h-1zM1002,839h1v1h-1zM1035,839h2v1h-2zM1091,839h2v1h-2zM1209,839h2v1h-2zM1283,839h2v1h-2zM1313,839h1v1h-1zM268,840h6v1h-6zM310,840h4v1h-4zM326,840h6v1h-6zM336,840h4v1h-4zM594,840h1v1h-1zM1003,840h1v1h-1zM1032,840h3v1h-3zM1093,840h2v1h-2zM1207,840h2v1h-2zM1285,840h1v1h-1zM1311,840h2v1h-2zM314,841h3v1h-3zM321,841h5v1h-5zM340,841h4v1h-4zM592,841h2v1h-2zM1003,841h1v1h-1zM1030,841h2v1h-2zM1095,841h2v1h-2zM1174,841h10v1h-10zM1205,841h2v1h-2zM1286,841h2v1h-2zM1308,841h3v1h-3zM317,842h4v1h-4zM344,842h4v1h-4zM557,842h3v1h-3zM591,842h1v1h-1zM1004,842h1v1h-1zM1028,842h2v1h-2zM1097,842h2v1h-2zM1146,842h28v1h-28zM1184,842h4v1h-4zM1203,842h2v1h-2zM1288,842h2v1h-2zM1304,842h4v1h-4zM348,843h3v1h-3zM555,843h2v1h-2zM560,843h2v1h-2zM589,843h2v1h-2zM1004,843h1v1h-1zM1026,843h2v1h-2zM1099,843h2v1h-2zM1138,843h8v1h-8zM1188,843h4v1h-4zM1201,843h2v1h-2zM1290,843h2v1h-2zM1300,843h4v1h-4zM351,844h1v1h-1zM553,844h2v1h-2zM562,844h3v1h-3zM586,844h3v1h-3zM1005,844h1v1h-1zM1023,844h3v1h-3zM1101,844h37v1h-37zM1192,844h4v1h-4zM1199,844h2v1h-2zM1292,844h2v1h-2zM1296,844h4v1h-4zM352,845h1v1h-1zM447,845h1v1h-1zM550,845h3v1h-3zM565,845h3v1h-3zM582,845h4v1h-4zM1005,845h1v1h-1zM1021,845h2v1h-2zM1196,845h3v1h-3zM1294,845h2v1h-2zM353,846h1v1h-1zM445,846h2v1h-2zM448,846h2v1h-2zM548,846h2v1h-2zM568,846h2v1h-2zM579,846h3v1h-3zM1006,846h1v1h-1zM1019,846h2v1h-2zM354,847h1v1h-1zM443,847h2v1h-2zM450,847h1v1h-1zM546,847h2v1h-2zM570,847h3v1h-3zM576,847h3v1h-3zM1006,847h1v1h-1zM1016,847h3v1h-3zM355,848h1v1h-1zM441,848h2v1h-2zM451,848h2v1h-2zM544,848h2v1h-2zM573,848h3v1h-3zM1007,848h1v1h-1zM1014,848h2v1h-2zM356,849h1v1h-1zM439,849h2v1h-2zM453,849h2v1h-2zM539,849h5v1h-5zM1007,849h1v1h-1zM1012,849h2v1h-2zM357,850h1v1h-1zM438,850h1v1h-1zM455,850h1v1h-1zM531,850h8v1h-8zM1008,850h1v1h-1zM1010,850h2v1h-2zM358,851h1v1h-1zM436,851h2v1h-2zM456,851h2v1h-2zM523,851h8v1h-8zM1008,851h2v1h-2zM359,852h1v1h-1zM434,852h2v1h-2zM458,852h1v1h-1zM515,852h8v1h-8zM360,853h1v1h-1zM432,853h2v1h-2zM459,853h2v1h-2zM491,853h24v1h-24zM361,854h1v1h-1zM431,854h1v1h-1zM461,854h2v1h-2zM483,854h8v1h-8zM362,855h1v1h-1zM430,855h1v1h-1zM463,855h20v1h-20zM363,856h1v1h-1zM429,856h1v1h-1zM364,857h1v1h-1zM428,857h1v1h-1zM365,858h1v1h-1zM427,858h1v1h-1zM366,859h3v1h-3zM426,859h1v1h-1zM369,860h5v1h-5zM425,860h1v1h-1zM374,861h6v1h-6zM424,861h1v1h-1zM380,862h11v1h-11zM423,862h1v1h-1zM391,863h10v1h-10zM422,863h1v1h-1zM401,864h2v1h-2zM421,864h1v1h-1zM403,865h2v1h-2zM420,865h1v1h-1zM405,866h2v1h-2zM419,866h1v1h-1zM407,867h3v1h-3zM418,867h1v1h-1zM410,868h2v1h-2zM417,868h1v1h-1zM412,869h2v1h-2zM416,869h1v1h-1zM414,870h2v1h-2z" fill="#1e90ff" shape-rendering="crispEdges"/>
<g shape-rendering="crispEdges" fill="#000">
<rect x="0" y="27" width="1626" height="1"/>
<rect x="0" y="580" width="1626" height="1"/>
<rect x="0" y="582" width="1626" height="1"/>
<rect x="0" y="765" width="1626" height="1"/>
<rect x="0" y="767" width="1626" height="1"/>
<rect x="0" y="927" width="1626" height="1"/>
<rect x="1625" y="27" width="1" height="554"/>
<rect x="1625" y="582" width="1" height="184"/>
<rect x="1625" y="767" width="1" height="161"/>
<rect x="1626" y="214" width="2" height="1"/>
<rect x="1626" y="247" width="2" height="1"/>
<rect x="1626" y="280" width="2" height="1"/>
<rect x="1626" y="313" width="2" height="1"/>
<rect x="1626" y="346" width="2" height="1"/>
<rect x="1626" y="379" width="2" height="1"/>
<rect x="1626" y="412" width="2" height="1"/>
<rect x="1626" y="445" width="2" height="1"/>
<rect x="1626" y="478" width="2" height="1"/>
<rect x="1626" y="511" width="2" height="1"/>
<rect x="1626" y="544" width="2" height="1"/>
<rect x="1626" y="577" width="2" height="1"/>
<rect x="1626" y="49" width="2" height="1"/>
<rect x="1626" y="82" width="2" height="1"/>
<rect x="1626" y="115" width="2" height="1"/>
<rect x="1626" y="148" width="2" height="1"/>
<rect x="1626" y="181" width="2" height="1"/>
<rect x="1626" y="739" width="2" height="1"/>
<rect x="1626" y="800" width="2" height="1"/>
<rect x="1626" y="847" width="2" height="1"/>
<rect x="1626" y="903" width="2" height="1"/>
<rect x="-2" y="928" width="1" height="4"/>
<rect x="62" y="928" width="1" height="4"/>
<rect x="126" y="928" width="1" height="4"/>
<rect x="190" y="928" width="1" height="4"/>
<rect x="254" y="928" width="1" height="4"/>
<rect x="318" y="928" width="1" height="4"/>
<rect x="382" y="928" width="1" height="4"/>
<rect x="446" y="928" width="1" height="4"/>
<rect x="510" y="928" width="1" height="4"/>
<rect x="574" y="928" width="1" height="4"/>
<rect x="638" y="928" width="1" height="4"/>
<rect x="702" y="928" width="1" height="4"/>
<rect x="766" y="928" width="1" height="4"/>
<rect x="830" y="928" width="1" height="4"/>
<rect x="894" y="928" width="1" height="4"/>
<rect x="958" y="928" width="1" height="4"/>
<rect x="1022" y="928" width="1" height="4"/>
<rect x="1086" y="928" width="1" height="4"/>
<rect x="1150" y="928" width="1" height="4"/>
<rect x="1214" y="928" width="1" height="4"/>
<rect x="1278" y="928" width="1" height="4"/>
<rect x="1342" y="928" width="1" height="4"/>
</g>
<path d="M1,38.5 L4.5,34 L8,38.5 Z" fill="#000"/>
<g fill="#c0c0c0" shape-rendering="crispEdges"><rect x="1391" y="28" width="9" height="1"/><rect x="1392" y="29" width="7" height="1"/><rect x="1393" y="30" width="5" height="1"/><rect x="1394" y="31" width="3" height="1"/><rect x="1395" y="32" width="1" height="1"/></g>
<g font-family="'Liberation Serif','Noto Serif CJK SC',serif" font-size="30.04" font-weight="bold">
<text x="967.13 999.53 1031.93 1064.33 1096.73" y="112.75" fill="#003c00">多空转折点</text>
<text x="965.78 998.18 1030.58 1062.98 1095.38" y="111.75" fill="#00ff00">多空转折点</text>
</g>
</svg>
<div class="t n" style="left:1631.5px;top:206.5px;font-size:9.72px;color:#000;">22109.0</div>
<div class="t n" style="left:1631.5px;top:239.5px;font-size:9.72px;color:#000;">22050.5</div>
<div class="t n" style="left:1631.5px;top:272.5px;font-size:9.72px;color:#000;">21992.0</div>
<div class="t n" style="left:1631.5px;top:305.5px;font-size:9.72px;color:#000;">21935.0</div>
<div class="t n" style="left:1631.5px;top:338.5px;font-size:9.72px;color:#000;">21876.5</div>
<div class="t n" style="left:1631.5px;top:371.5px;font-size:9.72px;color:#000;">21818.0</div>
<div class="t n" style="left:1631.5px;top:404.5px;font-size:9.72px;color:#000;">21759.5</div>
<div class="t n" style="left:1631.5px;top:437.5px;font-size:9.72px;color:#000;">21701.0</div>
<div class="t n" style="left:1631.5px;top:470.5px;font-size:9.72px;color:#000;">21642.5</div>
<div class="t n" style="left:1631.5px;top:503.5px;font-size:9.72px;color:#000;">21585.5</div>
<div class="t n" style="left:1631.5px;top:536.5px;font-size:9.72px;color:#000;">21527.0</div>
<div class="t n" style="left:1631.5px;top:569.5px;font-size:9.72px;color:#000;">21468.5</div>
<div class="t n" style="left:1631.5px;top:140.5px;font-size:9.72px;color:#000;">22226.0</div>
<div class="t n" style="left:1631.5px;top:173.5px;font-size:9.72px;color:#000;">22167.5</div>
<div class="t n" style="left:1631.5px;top:74.5px;font-size:9.72px;color:#000;">22343.0</div>
<div style="position:absolute;left:1627px;top:25px;width:41px;height:9px;background:#ff0000;overflow:hidden"><div class="t n" style="left:4.5px;top:-4px;font-size:9.72px;color:#fff">22435.2</div></div>
<div style="position:absolute;left:1627px;top:43px;width:41px;height:11px;background:#ff0000"></div>
<div class="t n" style="left:1631.5px;top:41px;font-size:9.72px;color:#fff;">22400.0</div>
<div style="position:absolute;left:1627px;top:73.5px;width:41px;height:11px;background:#000"></div>
<div class="t n" style="left:1631.5px;top:71.5px;font-size:9.72px;color:#fff;">22347.5</div>
<div style="position:absolute;left:1627px;top:111px;width:41px;height:11px;background:#32cd32"></div>
<div class="t n" style="left:1631.5px;top:109px;font-size:9.72px;color:#fff;">22280.8</div>
<div style="position:absolute;left:1627px;top:135px;width:41px;height:11px;background:#0000ff"></div>
<div class="t n" style="left:1631.5px;top:133px;font-size:9.72px;color:#fff;">22238.1</div>
<div style="position:absolute;left:1627px;top:171px;width:41px;height:11px;background:#0000ff"></div>
<div class="t n" style="left:1631.5px;top:169px;font-size:9.72px;color:#fff;">22174.5</div>
<div class="t n" style="left:1628.5px;top:582.5px;font-size:9.72px;color:#000;">140.6</div>
<div class="t n" style="left:1628.5px;top:731.5px;font-size:9.72px;color:#000;">0.00</div>
<div class="t n" style="left:1628.5px;top:750.5px;font-size:9.72px;color:#000;">-23.42</div>
<div class="t n" style="left:1628.5px;top:767px;font-size:9.72px;color:#000;">100</div>
<div class="t n" style="left:1628.5px;top:792.5px;font-size:9.72px;color:#000;">80</div>
<div class="t n" style="left:1628.5px;top:839.5px;font-size:9.72px;color:#000;">50</div>
<div class="t n" style="left:1628.5px;top:895.5px;font-size:9.72px;color:#000;">15</div>
<div class="t n" style="left:1628.5px;top:912.5px;font-size:9.72px;color:#000;">0</div>
<div class="t n" style="left:2px;top:583.5px;font-size:10.15px;color:#000;">MACD(12,26,9) 39.07 29.09</div>
<div class="t n" style="left:2px;top:768px;font-size:9.94px;color:#000;">RSI(14) 67.3203</div>
<div class="t n" style="left:13px;top:27.5px;font-size:9.99px;color:#000;">JPN225-,H4&nbsp; 22317.5 22347.5 22307.5 22347.5</div>
<div class="t n" style="left:-3px;top:928.5px;font-size:10.26px;color:#000;">3 Apr 2019</div>
<div class="t n" style="left:61.5px;top:928.5px;font-size:10.26px;color:#000;">4 Apr 04:00</div>
<div class="t n" style="left:125.5px;top:928.5px;font-size:10.26px;color:#000;">4 Apr 23:30</div>
<div class="t n" style="left:189.5px;top:928.5px;font-size:10.26px;color:#000;">5 Apr 14:55</div>
<div class="t n" style="left:253.5px;top:928.5px;font-size:10.26px;color:#000;">8 Apr 04:00</div>
<div class="t n" style="left:317.5px;top:928.5px;font-size:10.26px;color:#000;">8 Apr 23:30</div>
<div class="t n" style="left:381.5px;top:928.5px;font-size:10.26px;color:#000;">9 Apr 14:55</div>
<div class="t n" style="left:445.5px;top:928.5px;font-size:10.26px;color:#000;">10 Apr 04:00</div>
<div class="t n" style="left:509.5px;top:928.5px;font-size:10.26px;color:#000;">10 Apr 23:30</div>
<div class="t n" style="left:573.5px;top:928.5px;font-size:10.26px;color:#000;">11 Apr 14:55</div>
<div class="t n" style="left:637.5px;top:928.5px;font-size:10.26px;color:#000;">12 Apr 04:00</div>
<div class="t n" style="left:701.5px;top:928.5px;font-size:10.26px;color:#000;">14 Apr 23:30</div>
<div class="t n" style="left:765.5px;top:928.5px;font-size:10.26px;color:#000;">15 Apr 14:55</div>
<div class="t n" style="left:829.5px;top:928.5px;font-size:10.26px;color:#000;">16 Apr 04:00</div>
<div class="t n" style="left:893.5px;top:928.5px;font-size:10.26px;color:#000;">16 Apr 23:30</div>
<div class="t n" style="left:957.5px;top:928.5px;font-size:10.26px;color:#000;">17 Apr 14:55</div>
<div class="t n" style="left:1021.5px;top:928.5px;font-size:10.26px;color:#000;">18 Apr 04:00</div>
<div class="t n" style="left:1085.5px;top:928.5px;font-size:10.26px;color:#000;">18 Apr 23:30</div>
<div class="t n" style="left:1149.5px;top:928.5px;font-size:10.26px;color:#000;">19 Apr 14:55</div>
<div class="t n" style="left:1213.5px;top:928.5px;font-size:10.26px;color:#000;">22 Apr 04:00</div>
<div class="t n" style="left:1277.5px;top:928.5px;font-size:10.26px;color:#000;">22 Apr 23:30</div>
<div class="t n" style="left:1341.5px;top:928.5px;font-size:10.26px;color:#000;">23 Apr 14:55</div>
<div class="t" style="left:1129px;top:82px;height:40px;line-height:40px;font-size:32px;font-weight:bold;color:#00ff00;text-shadow:1px 1px 0 #003c00">22280</div>
<div id="oct">
  <div class="ocbg"></div>
  <div class="sellt"></div><div class="sellb"></div>
  <div class="buyt"></div><div class="buyb"></div>
  <div class="vol"><div class="vb l"><i class="ad"></i></div><div class="vf">1.00</div><div class="vb r"><i class="au"></i></div></div>
  <div class="t" style="left:13px;top:50.5px;font-size:11px;color:#fff">SELL</div>
  <div class="t" style="left:181.5px;top:50.5px;font-size:11px;color:#fff">BUY</div>
  <div class="ul" style="left:5px"></div><div class="ul" style="left:172px"></div>
  <div class="t" style="left:16.5px;top:90px;font-size:12.8px;font-weight:bold;color:#fff">22346</div>
  <div class="t" style="left:127px;top:90px;font-size:12.8px;font-weight:bold;color:#fff">22369</div>
  <div class="dot" style="left:56.6px"></div><div class="dot" style="left:167.4px"></div>
  <div class="t big" style="left:62px;">0</div>
  <div class="t big" style="left:173px;">0</div>
</div>

<svg id="tbsvg" width="1672" height="25" viewBox="0 0 1672 25">
<defs>
<linearGradient id="gG" x1="0" y1="0" x2="0" y2="1"><stop offset="0" stop-color="#7dff7d"/><stop offset="1" stop-color="#12b212"/></linearGradient>
<linearGradient id="gY" x1="0" y1="0" x2="1" y2="1"><stop offset="0" stop-color="#ffe96a"/><stop offset="1" stop-color="#c98d0e"/></linearGradient>
<linearGradient id="gB" x1="0" y1="0" x2="0" y2="1"><stop offset="0" stop-color="#4fb2ff"/><stop offset="1" stop-color="#1a6fd8"/></linearGradient>
<linearGradient id="gC" x1="0" y1="0" x2="0" y2="1"><stop offset="0" stop-color="#ffffff"/><stop offset="1" stop-color="#c4d4ee"/></linearGradient>
<linearGradient id="gH" x1="0" y1="0" x2="1" y2="1"><stop offset="0" stop-color="#e6c35a"/><stop offset="1" stop-color="#b8860b"/></linearGradient>
<linearGradient id="gL" x1="0" y1="0" x2="0" y2="1"><stop offset="0" stop-color="#e8f4ff"/><stop offset="1" stop-color="#b5d6f5"/></linearGradient>
<linearGradient id="gK" x1="0" y1="0" x2="0" y2="1"><stop offset="0" stop-color="#5db0ff"/><stop offset="0.5" stop-color="#1f78e0"/><stop offset="1" stop-color="#0b4fb0"/></linearGradient>
<pattern id="chk" width="2" height="2" patternUnits="userSpaceOnUse"><rect width="2" height="2" fill="#fff"/><rect width="1" height="1" fill="#f0f0f0"/><rect x="1" y="1" width="1" height="1" fill="#f0f0f0"/></pattern>
<linearGradient id="gS" x1="1" y1="0" x2="0.3" y2="1"><stop offset="0" stop-color="#cfe6cf" stop-opacity="0.7"/><stop offset="1" stop-color="#2fa62f"/></linearGradient>
<linearGradient id="gF" x1="0" y1="0" x2="1" y2="1"><stop offset="0" stop-color="#fff0a0"/><stop offset="1" stop-color="#f0b820"/></linearGradient>
</defs>
<path d="M-3,3.5 H4.5 L7.5,6.5 V14 H-3 Z" fill="#fafafa" stroke="#9a9a9a" stroke-width="0.8"/>
<path d="M0,7.5 H3 M0,9.5 H5 M0,11.5 H3" stroke="#9a9a9a" stroke-width="0.8"/>
<path d="M4,9.7 H8 V13.3 H12 V17.3 H8 V20.8 H4 V17.3 H0 V13.3 H4 Z" fill="url(#gG)" stroke="#0c9a0c" stroke-width="0.8"/>
<text x="14.5" y="13.9" font-family="'Liberation Sans','Noto Sans CJK SC',sans-serif" font-size="12" fill="#000">新订单</text>
<path d="M68.7,3.6 L79.3,12 L79.1,13.2 L71.2,19.1 L62.7,13.1 Q65.3,10.3 66.6,8.3 Q67.6,6 68.7,3.6 Z" fill="#b47c1a"/>
<path d="M78.2,11.5 L79,12.6 L71.9,18 L71.9,16.3 Z" fill="#e9dfa8"/>
<path d="M63.6,12.9 L71.6,16.7 L71.3,18.3 L63.3,13.9 Z" fill="#f2cd55"/>
<path d="M68.9,4.7 L77.6,11 L71.7,15.6 L64.4,12 Q66.5,9.7 67.6,8 Q68.4,6.5 68.9,4.7 Z" fill="url(#gY)"/>
<path d="M93,4 L94.5,3 H102.5 L104.2,4.2 V12.5 H93 Z" fill="#1f8ff5"/>
<path d="M93.4,4.4 L96.3,5.6 V12.5 H93.4 Z" fill="#36a8ff"/>
<rect x="96.6" y="5.6" width="7.2" height="7" fill="#2f9bfa"/><rect x="98" y="7.4" width="5" height="1.4" fill="#e8f4ff"/>
<path d="M94,18.6 a2.6,2.6 0 0 1 -0.3,-5.2 a2.4,2.4 0 0 1 2.9,-1.3 a3,3 0 0 1 5.2,-0.2 a2.6,2.6 0 0 1 3.4,1.9 a2.5,2.5 0 0 1 -0.4,4.8 Z" fill="url(#gC)" stroke="#4a6cb0" stroke-width="0.9"/>
<circle cx="126.9" cy="10.8" r="8" fill="#f6f9fd" opacity="0.7"/>
<path d="M126.9,10.8 L126.9,18.9 A8.1,8.1 0 0 0 131.3,4 Z" fill="url(#gS)"/>
<g fill="none" stroke="#3a6fd8">
<circle cx="126.9" cy="10.8" r="3.7" stroke-width="0.9" opacity="0.55"/>
<circle cx="126.9" cy="10.8" r="5.8" stroke-width="0.9" opacity="0.45"/>
<circle cx="126.9" cy="10.8" r="7.8" stroke-width="0.9" opacity="0.5"/>
</g>
<rect x="126.9" y="11" width="1.4" height="7.8" fill="#1aa51a"/>
<circle cx="126.8" cy="10.5" r="1.9" fill="#2a5fd8"/>
<path d="M146.4,10.2 L161.9,9.6 L157.5,16 L154.6,18.8 L152.6,18 Z" fill="url(#gF)" stroke="#d0a018" stroke-width="0.6"/>
<path d="M145.9,7.6 Q146.3,5.9 149,6.6 Q154,9.3 159.3,6.4 Q162,5.7 162,7.4 Q160.5,10 154,10.4 Q147.5,10.2 145.9,7.6 Z" fill="#4da6dc" stroke="#2b86be" stroke-width="0.6"/>
<path d="M149.6,7 Q149.9,3 153.6,3 Q157.4,3 157.8,7 Q153.7,9.2 149.6,7 Z" fill="#6dbbe8" stroke="#2b86be" stroke-width="0.6"/>
<circle cx="158.5" cy="14.7" r="4.1" fill="#e02c10" stroke="#b41c0c" stroke-width="0.6"/><rect x="157" y="13.2" width="3" height="3" fill="#fff"/>
<text x="167.4" y="14.2" font-family="'Liberation Sans','Noto Sans CJK SC',sans-serif" font-size="12" fill="#000">自动交易</text>
<rect x="222" y="1" width="1" height="20" fill="#a0a0a0" shape-rendering="crispEdges"/>
<rect x="225" y="2" width="3" height="1" fill="#b4b4b4" shape-rendering="crispEdges"/>
<rect x="225" y="4" width="3" height="1" fill="#b4b4b4" shape-rendering="crispEdges"/>
<rect x="225" y="6" width="3" height="1" fill="#b4b4b4" shape-rendering="crispEdges"/>
<rect x="225" y="8" width="3" height="1" fill="#b4b4b4" shape-rendering="crispEdges"/>
<rect x="225" y="10" width="3" height="1" fill="#b4b4b4" shape-rendering="crispEdges"/>
<rect x="225" y="12" width="3" height="1" fill="#b4b4b4" shape-rendering="crispEdges"/>
<rect x="225" y="14" width="3" height="1" fill="#b4b4b4" shape-rendering="crispEdges"/>
<rect x="225" y="16" width="3" height="1" fill="#b4b4b4" shape-rendering="crispEdges"/>
<rect x="225" y="18" width="3" height="1" fill="#b4b4b4" shape-rendering="crispEdges"/>
<rect x="225" y="20" width="3" height="1" fill="#b4b4b4" shape-rendering="crispEdges"/>
<g stroke="#505050" stroke-width="1.4" fill="none"><path d="M240.4,5.5 V18.8 M237.9,16.4 H250.9"/></g>
<path d="M238.6,7.2 L240.4,4.6 L242.20000000000002,7.2 Z M249.70000000000002,14.6 L252.20000000000002,16.4 L249.70000000000002,18.2 Z" fill="#505050"/>
<path d="M246.6,6 V14.5 M246.6,7.5 H249 M244,13.3 H246.6" stroke="#008c00" stroke-width="1.5" fill="none"/>
<rect x="261" y="0" width="25" height="22" fill="url(#chk)" shape-rendering="crispEdges"/>
<rect x="260" y="0" width="1" height="21" fill="#a0a0a0" shape-rendering="crispEdges"/>
<g stroke="#505050" stroke-width="1.4" fill="none"><path d="M268.4,5.5 V18.8 M265.9,16.4 H278.9"/></g>
<path d="M266.59999999999997,7.2 L268.4,4.6 L270.2,7.2 Z M277.7,14.6 L280.2,16.4 L277.7,18.2 Z" fill="#505050"/>
<path d="M274.5,3.2 V14.8" stroke="#008c00" stroke-width="1.3"/><rect x="272.4" y="5.3" width="4.2" height="7.5" fill="url(#gG)" stroke="#008c00" stroke-width="0.9"/>
<g stroke="#505050" stroke-width="1.4" fill="none"><path d="M296.4,5.5 V18.8 M293.9,16.4 H306.9"/></g>
<path d="M294.59999999999997,7.2 L296.4,4.6 L298.2,7.2 Z M305.7,14.6 L308.2,16.4 L305.7,18.2 Z" fill="#505050"/>
<path d="M295.1,13.5 C297.5,12 299,8.3 301,8.3 C303,8.3 304.5,11.3 306.7,12.1" stroke="#1c9a1c" stroke-width="1.3" fill="none"/>
<rect x="317" y="1" width="1" height="20" fill="#a0a0a0" shape-rendering="crispEdges"/>
<path d="M335.6,13.2 L341.40000000000003,18.6" stroke="#9a7a14" stroke-width="3.4" stroke-linecap="round"/>
<path d="M335.8,13.3 L341.2,18.3" stroke="#f0d24a" stroke-width="1.8" stroke-linecap="round"/>
<circle cx="331.8" cy="9.2" r="5.4" fill="url(#gL)" stroke="#3d86d8" stroke-width="1.3"/>
<path d="M328.8,9.2 H334.8" stroke="#2d6fd0" stroke-width="1.8"/>
<path d="M331.8,6.2 V12.2" stroke="#2d6fd0" stroke-width="1.8"/>
<path d="M363.6,13.2 L369.40000000000003,18.6" stroke="#9a7a14" stroke-width="3.4" stroke-linecap="round"/>
<path d="M363.8,13.3 L369.2,18.3" stroke="#f0d24a" stroke-width="1.8" stroke-linecap="round"/>
<circle cx="359.8" cy="9.2" r="5.4" fill="url(#gL)" stroke="#3d86d8" stroke-width="1.3"/>
<path d="M356.8,9.2 H362.8" stroke="#2d6fd0" stroke-width="1.8"/>
<rect x="382" y="3" width="7.7" height="7.7" rx="0.8" fill="#5a9e28"/><rect x="383.2" y="6" width="5.3" height="3.2" fill="#fff"/><rect x="383.2" y="4.2" width="1" height="1" fill="#fff"/>
<rect x="384" y="7.2" width="3.7" height="0.8" fill="#5a9e28" opacity="0.7"/>
<rect x="390.3" y="3" width="7.7" height="7.7" rx="0.8" fill="#2458c8"/><rect x="391.5" y="6" width="5.3" height="3.2" fill="#fff"/><rect x="391.5" y="4.2" width="1" height="1" fill="#fff"/>
<rect x="392.3" y="7.2" width="3.7" height="0.8" fill="#2458c8" opacity="0.7"/>
<rect x="382" y="11.3" width="7.7" height="7.7" rx="0.8" fill="#2458c8"/><rect x="383.2" y="14.3" width="5.3" height="3.2" fill="#fff"/><rect x="383.2" y="12.5" width="1" height="1" fill="#fff"/>
<rect x="384" y="15.5" width="3.7" height="0.8" fill="#2458c8" opacity="0.7"/>
<rect x="390.3" y="11.3" width="7.7" height="7.7" rx="0.8" fill="#5a9e28"/><rect x="391.5" y="14.3" width="5.3" height="3.2" fill="#fff"/><rect x="391.5" y="12.5" width="1" height="1" fill="#fff"/>
<rect x="392.3" y="15.5" width="3.7" height="0.8" fill="#5a9e28" opacity="0.7"/>
<rect x="407" y="1" width="1" height="20" fill="#a0a0a0" shape-rendering="crispEdges"/>
<rect x="413" y="0" width="24" height="22" fill="url(#chk)" shape-rendering="crispEdges"/>
<rect x="412" y="0" width="1" height="21" fill="#a0a0a0" shape-rendering="crispEdges"/>
<g stroke="#505050" stroke-width="1.4" fill="none"><path d="M420.3,5.5 V18.8 M417.8,16.4 H430.8"/></g>
<path d="M418.5,7.2 L420.3,4.6 L422.1,7.2 Z M429.6,14.6 L432.1,16.4 L429.6,18.2 Z" fill="#505050"/>
<path d="M426,7.2 L430,10.4 L426,13.6 Z" fill="#c8f0c8" stroke="#1c9a1c" stroke-width="1.2"/>
<rect x="440" y="1" width="1" height="20" fill="#a0a0a0" shape-rendering="crispEdges"/>
<g stroke="#505050" stroke-width="1.4" fill="none"><path d="M448.3,5.5 V18.8 M445.8,16.4 H458.8"/></g>
<path d="M446.5,7.2 L448.3,4.6 L450.1,7.2 Z M457.6,14.6 L460.1,16.4 L457.6,18.2 Z" fill="#505050"/>
<path d="M454.5,5 V15" stroke="#2a5fa8" stroke-width="1.3"/>
<path d="M460.2,10.4 H456 M457.8,8.3 L455.6,10.4 L457.8,12.5" stroke="#d04a10" stroke-width="1.2" fill="none"/>
<path d="M454,16.4 h6" stroke="#505050" stroke-width="1.2"/>
<rect x="469" y="1" width="1" height="20" fill="#a0a0a0" shape-rendering="crispEdges"/>
<path d="M479.5,3.6 H486.5 L490,7 V16.5 H479.5 Z" fill="#fafafa" stroke="#8c8c8c" stroke-width="0.8"/><path d="M486.5,3.6 V7 H490" fill="none" stroke="#8c8c8c" stroke-width="0.7"/>
<path d="M485.3,6.4 Q483.4,6 483.3,8 V13.6 M482,9.3 H485" stroke="#444" stroke-width="0.9" fill="none"/>
<path d="M487.3,9.6 H491 V13 H494.7 V16.8 H491 V20.3 H487.3 V16.8 H483.7 V13 H487.3 Z" fill="url(#gG)" stroke="#0c9a0c" stroke-width="0.8"/>
<path d="M501,10 h5 l-2.5,3 z" fill="#000"/>
<circle cx="525" cy="11" r="7.6" fill="url(#gK)" stroke="#0a46a0" stroke-width="0.8"/><circle cx="525" cy="11" r="5.2" fill="#f4f8ff"/>
<path d="M525,7.3 V11.3 H528" stroke="#333" stroke-width="1" fill="none"/>
<path d="M540,10 h5 l-2.5,3 z" fill="#000"/>
<rect x="556.5" y="4.2" width="15.2" height="13.4" fill="#fff" stroke="#3a78d0" stroke-width="1"/><rect x="556.5" y="4.2" width="15.2" height="2.3" fill="#3a78d0"/>
<rect x="557.5" y="11" width="13.2" height="1" fill="#7aa8e0"/>
<path d="M558.5,9.6 L561,8.8 L563,9.4 L565.5,8 L569.5,8.4" stroke="#a01818" stroke-width="1.1" fill="none"/>
<path d="M558.5,15.3 L561,14 L563,15.2 L565.5,13.4 L569.5,14.4" stroke="#18a018" stroke-width="1.1" fill="none"/>
<path d="M578.7,10 h5 l-2.5,3 z" fill="#000"/>
<rect x="590" y="1" width="1" height="20" fill="#a0a0a0" shape-rendering="crispEdges"/>
<rect x="594" y="2" width="3" height="1" fill="#b4b4b4" shape-rendering="crispEdges"/>
<rect x="594" y="4" width="3" height="1" fill="#b4b4b4" shape-rendering="crispEdges"/>
<rect x="594" y="6" width="3" height="1" fill="#b4b4b4" shape-rendering="crispEdges"/>
<rect x="594" y="8" width="3" height="1" fill="#b4b4b4" shape-rendering="crispEdges"/>
<rect x="594" y="10" width="3" height="1" fill="#b4b4b4" shape-rendering="crispEdges"/>
<rect x="594" y="12" width="3" height="1" fill="#b4b4b4" shape-rendering="crispEdges"/>
<rect x="594" y="14" width="3" height="1" fill="#b4b4b4" shape-rendering="crispEdges"/>
<rect x="594" y="16" width="3" height="1" fill="#b4b4b4" shape-rendering="crispEdges"/>
<rect x="594" y="18" width="3" height="1" fill="#b4b4b4" shape-rendering="crispEdges"/>
<rect x="594" y="20" width="3" height="1" fill="#b4b4b4" shape-rendering="crispEdges"/>
<rect x="601" y="0" width="24" height="22" fill="url(#chk)" shape-rendering="crispEdges"/>
<rect x="600" y="0" width="1" height="21" fill="#a0a0a0" shape-rendering="crispEdges"/>
<path d="M607.8,4.3 L607.8,15.6 L610.4,13.2 L612.6,17.9 L614.4,17 L612.3,12.5 L615.8,12.3 Z" fill="#404040"/>
<path d="M640.5,4.5 V18.5 M633,11.3 H648" stroke="#404040" stroke-width="1"/><rect x="639.5" y="10.3" width="2" height="2" fill="#f0f0f0"/>
<rect x="657" y="1" width="1" height="20" fill="#a0a0a0" shape-rendering="crispEdges"/>
<path d="M674.3,5 V18" stroke="#404040" stroke-width="1.1"/>
<path d="M697.2,11.3 H708.8" stroke="#404040" stroke-width="1.1"/>
<path d="M724.6,18 L737,6" stroke="#404040" stroke-width="1.1"/>
<g stroke="#404040" stroke-width="0.9"><path d="M751,14.3 L763.5,5.2 M752.5,18 L765,8.8"/><path d="M754,12.2 L755.5,16 M756.5,10.4 L758,14.2 M759,8.6 L760.5,12.4 M761.5,6.8 L763,10.6 M757.5,7 L754,17 M761,4 L757,17.5" stroke-width="0.7"/></g>
<text x="761.5" y="19.6" font-family="Liberation Sans, sans-serif" font-size="6.5" font-weight="bold" fill="#404040">E</text>
<path d="M780,4.8 h13" stroke="#404040" stroke-width="0.9" stroke-dasharray="1,1"/>
<path d="M780,8 h13" stroke="#404040" stroke-width="0.9" stroke-dasharray="1,1"/>
<path d="M780,11.2 h13" stroke="#404040" stroke-width="0.9" stroke-dasharray="1,1"/>
<path d="M780,15.2 h9" stroke="#404040" stroke-width="0.9" stroke-dasharray="1,1"/>
<text x="789.5" y="19.8" font-family="Liberation Sans, sans-serif" font-size="6.5" font-weight="bold" fill="#404040">F</text>
<text x="810.3" y="15.8" font-family="Liberation Sans, sans-serif" font-size="12" fill="#404040">A</text>
<rect x="837" y="5" width="11.5" height="12.5" fill="none" stroke="#404040" stroke-width="0.9" stroke-dasharray="1,1"/>
<path d="M839.5,8 H846.5 M843,8 V15.6" stroke="#404040" stroke-width="1.5" fill="none"/>
<path d="M867.5,5 L870.5,8.3 L864.5,8.3 Z M874.5,17.8 L871.5,14.5 L877.5,14.5 Z" fill="#404040"/>
<path d="M865.5,11.2 L868,14 L873.5,8.7" stroke="#404040" stroke-width="1.3" fill="none"/>
<path d="M872.2,11 L875,13.8" stroke="#404040" stroke-width="1.3" fill="none"/>
<path d="M884.8,10 h5 l-2.5,3 z" fill="#000"/>
<rect x="896" y="1" width="1" height="20" fill="#a0a0a0" shape-rendering="crispEdges"/>
<rect x="900" y="2" width="3" height="1" fill="#b4b4b4" shape-rendering="crispEdges"/>
<rect x="900" y="4" width="3" height="1" fill="#b4b4b4" shape-rendering="crispEdges"/>
<rect x="900" y="6" width="3" height="1" fill="#b4b4b4" shape-rendering="crispEdges"/>
<rect x="900" y="8" width="3" height="1" fill="#b4b4b4" shape-rendering="crispEdges"/>
<rect x="900" y="10" width="3" height="1" fill="#b4b4b4" shape-rendering="crispEdges"/>
<rect x="900" y="12" width="3" height="1" fill="#b4b4b4" shape-rendering="crispEdges"/>
<rect x="900" y="14" width="3" height="1" fill="#b4b4b4" shape-rendering="crispEdges"/>
<rect x="900" y="16" width="3" height="1" fill="#b4b4b4" shape-rendering="crispEdges"/>
<rect x="900" y="18" width="3" height="1" fill="#b4b4b4" shape-rendering="crispEdges"/>
<rect x="900" y="20" width="3" height="1" fill="#b4b4b4" shape-rendering="crispEdges"/>
<rect x="1047" y="0" width="24" height="22" fill="url(#chk)" shape-rendering="crispEdges"/>
<rect x="1046" y="0" width="1" height="21" fill="#a0a0a0" shape-rendering="crispEdges"/>
<text x="911.2" y="14.9" font-family="Liberation Sans, sans-serif" font-size="9.5" fill="#3c3c3c">M1</text>
<text x="939.4" y="14.9" font-family="Liberation Sans, sans-serif" font-size="9.5" fill="#3c3c3c">M5</text>
<text x="965.3" y="14.9" font-family="Liberation Sans, sans-serif" font-size="9.5" fill="#3c3c3c">M15</text>
<text x="993.5" y="14.9" font-family="Liberation Sans, sans-serif" font-size="9.5" fill="#3c3c3c">M30</text>
<text x="1024.5" y="14.9" font-family="Liberation Sans, sans-serif" font-size="9.5" fill="#3c3c3c">H1</text>
<text x="1051.3" y="14.9" font-family="Liberation Sans, sans-serif" font-size="9.5" fill="#3c3c3c">H4</text>
<text x="1080.6" y="14.9" font-family="Liberation Sans, sans-serif" font-size="9.5" fill="#3c3c3c">D1</text>
<text x="1107.7" y="14.9" font-family="Liberation Sans, sans-serif" font-size="9.5" fill="#3c3c3c">W1</text>
<text x="1134.5" y="14.9" font-family="Liberation Sans, sans-serif" font-size="9.5" fill="#3c3c3c">MN</text>
<rect x="1157" y="1" width="1" height="20" fill="#a0a0a0" shape-rendering="crispEdges"/>
<path d="M1627.5,10.3 L1620.2,16" stroke="#2d5fc8" stroke-width="2.6" stroke-linecap="round"/>
<circle cx="1627.8" cy="8.2" r="4.1" fill="#fafcff" stroke="#2d6be0" stroke-width="1.3"/>
<ellipse cx="1660" cy="8" rx="6.6" ry="4.9" fill="#ececf2" stroke="#b8b8c0" stroke-width="0.8"/><path d="M1662.5,12.2 L1664,15 L1660,12.6 Z" fill="#d0d0d8" stroke="#a8a8b0" stroke-width="0.5"/>
<ellipse cx="1651" cy="11.8" rx="5.3" ry="4" fill="#f2f2f6" stroke="#b0b0b8" stroke-width="0.8"/><path d="M1648.5,15.2 L1648.6,17.8 L1651.5,15.6 Z" fill="#d8d8e0" stroke="#a8a8b0" stroke-width="0.5"/>
</svg>
</body></html>
